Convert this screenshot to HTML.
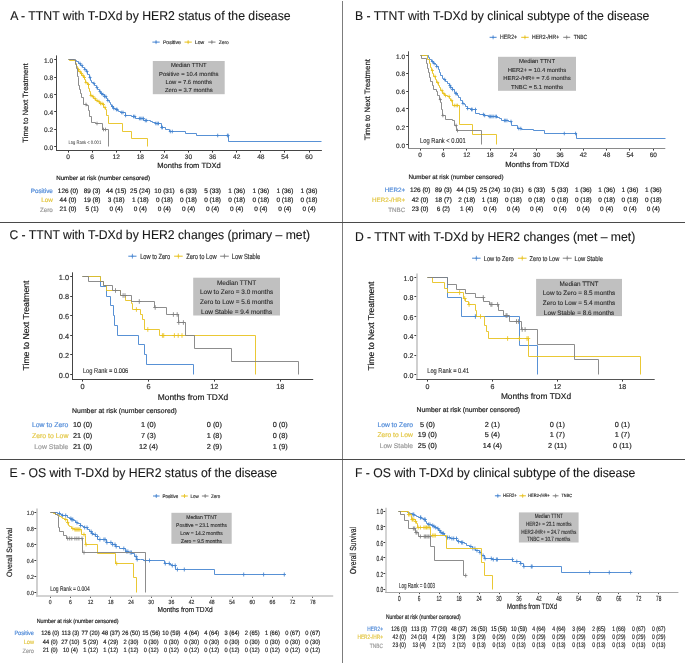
<!DOCTYPE html>
<html><head><meta charset="utf-8"><style>
html,body{margin:0;padding:0;background:#fff;}
svg{display:block;filter:blur(0.25px);}
text{font-family:"Liberation Sans",sans-serif;text-rendering:geometricPrecision;}
</style></head><body>
<svg width="685" height="664" viewBox="0 0 685 664">
<rect width="685" height="664" fill="#ffffff"/>
<text x="10.20" y="19.70" font-size="12.74" text-anchor="start" fill="#1a1a1a" textLength="280.40" lengthAdjust="spacingAndGlyphs" stroke="#1a1a1a" stroke-width="0.12">A - TTNT with T-DXd by HER2 status of the disease</text>
<line x1="152.40" y1="42.10" x2="159.70" y2="42.10" stroke="#4584d0" stroke-width="1.0"/>
<path d="M155.05 42.10H157.05M156.05 40.10V44.10" stroke="#4584d0" stroke-width="0.8" fill="none"/>
<text x="162.90" y="43.87" font-size="5.14" text-anchor="start" fill="#333333" textLength="18.00" lengthAdjust="spacingAndGlyphs" stroke="#333333" stroke-width="0.18">Positive</text>
<line x1="184.50" y1="42.10" x2="191.80" y2="42.10" stroke="#e8c21e" stroke-width="1.0"/>
<path d="M187.15 42.10H189.15M188.15 40.10V44.10" stroke="#e8c21e" stroke-width="0.8" fill="none"/>
<text x="195.00" y="43.83" font-size="5.02" text-anchor="start" fill="#333333" textLength="9.20" lengthAdjust="spacingAndGlyphs" stroke="#333333" stroke-width="0.18">Low</text>
<line x1="208.20" y1="42.10" x2="215.50" y2="42.10" stroke="#808080" stroke-width="1.0"/>
<path d="M210.85 42.10H212.85M211.85 40.10V44.10" stroke="#808080" stroke-width="0.8" fill="none"/>
<text x="218.80" y="43.77" font-size="4.86" text-anchor="start" fill="#333333" textLength="10.00" lengthAdjust="spacingAndGlyphs" stroke="#333333" stroke-width="0.18">Zero</text>
<line x1="56.50" y1="55.40" x2="56.50" y2="151.00" stroke="#454545" stroke-width="1.0"/>
<line x1="56.00" y1="150.50" x2="321.90" y2="150.50" stroke="#454545" stroke-width="1.0"/>
<line x1="54.20" y1="146.50" x2="56.00" y2="146.50" stroke="#3a3a3a" stroke-width="1.0"/>
<text x="53.30" y="149.58" font-size="6.62" text-anchor="end" fill="#333333" stroke="#333333" stroke-width="0.18">0.0</text>
<line x1="54.20" y1="129.50" x2="56.00" y2="129.50" stroke="#3a3a3a" stroke-width="1.0"/>
<text x="53.30" y="132.22" font-size="6.62" text-anchor="end" fill="#333333" stroke="#333333" stroke-width="0.18">0.2</text>
<line x1="54.20" y1="111.50" x2="56.00" y2="111.50" stroke="#3a3a3a" stroke-width="1.0"/>
<text x="53.30" y="114.86" font-size="6.62" text-anchor="end" fill="#333333" stroke="#333333" stroke-width="0.18">0.4</text>
<line x1="54.20" y1="94.50" x2="56.00" y2="94.50" stroke="#3a3a3a" stroke-width="1.0"/>
<text x="53.30" y="97.50" font-size="6.62" text-anchor="end" fill="#333333" stroke="#333333" stroke-width="0.18">0.6</text>
<line x1="54.20" y1="77.50" x2="56.00" y2="77.50" stroke="#3a3a3a" stroke-width="1.0"/>
<text x="53.30" y="80.14" font-size="6.62" text-anchor="end" fill="#333333" stroke="#333333" stroke-width="0.18">0.8</text>
<line x1="54.20" y1="59.50" x2="56.00" y2="59.50" stroke="#3a3a3a" stroke-width="1.0"/>
<text x="53.30" y="62.78" font-size="6.62" text-anchor="end" fill="#333333" stroke="#333333" stroke-width="0.18">1.0</text>
<line x1="68.50" y1="151.00" x2="68.50" y2="152.60" stroke="#3a3a3a" stroke-width="1.0"/>
<text x="68.00" y="158.68" font-size="6.62" text-anchor="middle" fill="#333333" stroke="#333333" stroke-width="0.18">0</text>
<line x1="92.50" y1="151.00" x2="92.50" y2="152.60" stroke="#3a3a3a" stroke-width="1.0"/>
<text x="92.10" y="158.68" font-size="6.62" text-anchor="middle" fill="#333333" stroke="#333333" stroke-width="0.18">6</text>
<line x1="116.50" y1="151.00" x2="116.50" y2="152.60" stroke="#3a3a3a" stroke-width="1.0"/>
<text x="116.20" y="158.68" font-size="6.62" text-anchor="middle" fill="#333333" stroke="#333333" stroke-width="0.18">12</text>
<line x1="140.50" y1="151.00" x2="140.50" y2="152.60" stroke="#3a3a3a" stroke-width="1.0"/>
<text x="140.31" y="158.68" font-size="6.62" text-anchor="middle" fill="#333333" stroke="#333333" stroke-width="0.18">18</text>
<line x1="164.50" y1="151.00" x2="164.50" y2="152.60" stroke="#3a3a3a" stroke-width="1.0"/>
<text x="164.41" y="158.68" font-size="6.62" text-anchor="middle" fill="#333333" stroke="#333333" stroke-width="0.18">24</text>
<line x1="188.50" y1="151.00" x2="188.50" y2="152.60" stroke="#3a3a3a" stroke-width="1.0"/>
<text x="188.51" y="158.68" font-size="6.62" text-anchor="middle" fill="#333333" stroke="#333333" stroke-width="0.18">30</text>
<line x1="212.50" y1="151.00" x2="212.50" y2="152.60" stroke="#3a3a3a" stroke-width="1.0"/>
<text x="212.61" y="158.68" font-size="6.62" text-anchor="middle" fill="#333333" stroke="#333333" stroke-width="0.18">36</text>
<line x1="236.50" y1="151.00" x2="236.50" y2="152.60" stroke="#3a3a3a" stroke-width="1.0"/>
<text x="236.71" y="158.68" font-size="6.62" text-anchor="middle" fill="#333333" stroke="#333333" stroke-width="0.18">42</text>
<line x1="260.50" y1="151.00" x2="260.50" y2="152.60" stroke="#3a3a3a" stroke-width="1.0"/>
<text x="260.82" y="158.68" font-size="6.62" text-anchor="middle" fill="#333333" stroke="#333333" stroke-width="0.18">48</text>
<line x1="284.50" y1="151.00" x2="284.50" y2="152.60" stroke="#3a3a3a" stroke-width="1.0"/>
<text x="284.92" y="158.68" font-size="6.62" text-anchor="middle" fill="#333333" stroke="#333333" stroke-width="0.18">54</text>
<line x1="309.50" y1="151.00" x2="309.50" y2="152.60" stroke="#3a3a3a" stroke-width="1.0"/>
<text x="309.02" y="158.68" font-size="6.62" text-anchor="middle" fill="#333333" stroke="#333333" stroke-width="0.18">60</text>
<text transform="translate(28.02,103.00) rotate(-90)" x="0" y="0" font-size="7.62" text-anchor="middle" fill="#1a1a1a" textLength="79.30" lengthAdjust="spacingAndGlyphs" stroke="#1a1a1a" stroke-width="0.18">Time to Next Treatment</text>
<text x="157.30" y="167.61" font-size="7.58" text-anchor="start" fill="#1a1a1a" textLength="63.50" lengthAdjust="spacingAndGlyphs" stroke="#1a1a1a" stroke-width="0.18">Months from TDXd</text>
<rect x="152.80" y="61.00" width="71.90" height="33.20" fill="#c0c0c0"/>
<text x="188.75" y="67.01" font-size="5.86" text-anchor="middle" fill="#262626" stroke="#262626" stroke-width="0.09">Median TTNT</text>
<text x="188.75" y="75.81" font-size="5.86" text-anchor="middle" fill="#262626" stroke="#262626" stroke-width="0.09">Positive = 10.4 months</text>
<text x="188.75" y="84.31" font-size="5.86" text-anchor="middle" fill="#262626" stroke="#262626" stroke-width="0.09">Low = 7.6 months</text>
<text x="188.75" y="92.31" font-size="5.86" text-anchor="middle" fill="#262626" stroke="#262626" stroke-width="0.09">Zero = 3.7 months</text>
<text x="68.40" y="144.31" font-size="4.97" text-anchor="start" fill="#2a2a2a" textLength="32.80" lengthAdjust="spacingAndGlyphs">Log Rank &lt; 0.001</text>
<text x="56.20" y="180.12" font-size="6.17" text-anchor="start" fill="#1a1a1a" textLength="93.90" lengthAdjust="spacingAndGlyphs" stroke="#1a1a1a" stroke-width="0.18">Number at risk (number censored)</text>
<path d="M68.50 59.50 L74.50 59.50 L74.50 60.50 L76.50 60.50 L76.50 61.50 L78.50 61.50 L78.50 63.50 L80.50 63.50 L80.50 65.50 L82.50 65.50 L82.50 67.50 L84.50 67.50 L84.50 69.50 L86.50 69.50 L86.50 71.50 L87.50 71.50 L87.50 74.50 L89.50 74.50 L89.50 77.50 L90.50 77.50 L90.50 80.50 L91.50 80.50 L91.50 82.50 L93.50 82.50 L93.50 83.50 L94.50 83.50 L94.50 85.50 L96.50 85.50 L96.50 87.50 L97.50 87.50 L97.50 89.50 L99.50 89.50 L99.50 91.50 L100.50 91.50 L100.50 93.50 L102.50 93.50 L102.50 94.50 L104.50 94.50 L104.50 96.50 L106.50 96.50 L106.50 98.50 L107.50 98.50 L107.50 100.50 L109.50 100.50 L109.50 102.50 L110.50 102.50 L110.50 104.50 L111.50 104.50 L111.50 106.50 L113.50 106.50 L113.50 108.50 L115.50 108.50 L115.50 109.50 L117.50 109.50 L117.50 110.50 L118.50 110.50 L118.50 111.50 L120.50 111.50 L120.50 112.50 L122.50 112.50 L125.50 112.50 L125.50 115.50 L131.50 115.50 L131.50 116.50 L135.50 116.50 L135.50 118.50 L139.50 118.50 L143.50 118.50 L143.50 120.50 L148.50 120.50 L150.50 120.50 L150.50 121.50 L152.50 121.50 L152.50 122.50 L155.50 122.50 L155.50 123.50 L157.50 123.50 L161.50 123.50 L161.50 127.50 L165.50 127.50 L165.50 129.50 L169.50 129.50 L169.50 131.50 L185.50 131.50 L185.50 133.50 L196.50 133.50 L196.50 135.50 L228.50 135.50 L228.50 141.50 L321.50 141.50" stroke="#4584d0" stroke-width="0.9" fill="none" stroke-linejoin="miter"/>
<path d="M78.47 63.50H81.53M80.00 61.70V65.30" stroke="#4584d0" stroke-width="0.85" fill="none"/>
<path d="M80.47 65.50H83.53M82.00 63.70V67.30" stroke="#4584d0" stroke-width="0.85" fill="none"/>
<path d="M83.47 69.50H86.53M85.00 67.70V71.30" stroke="#4584d0" stroke-width="0.85" fill="none"/>
<path d="M85.47 71.50H88.53M87.00 69.70V73.30" stroke="#4584d0" stroke-width="0.85" fill="none"/>
<path d="M88.47 77.50H91.53M90.00 75.70V79.30" stroke="#4584d0" stroke-width="0.85" fill="none"/>
<path d="M92.47 83.50H95.53M94.00 81.70V85.30" stroke="#4584d0" stroke-width="0.85" fill="none"/>
<path d="M95.47 87.50H98.53M97.00 85.70V89.30" stroke="#4584d0" stroke-width="0.85" fill="none"/>
<path d="M98.47 91.50H101.53M100.00 89.70V93.30" stroke="#4584d0" stroke-width="0.85" fill="none"/>
<path d="M99.97 93.50H103.03M101.50 91.70V95.30" stroke="#4584d0" stroke-width="0.85" fill="none"/>
<path d="M101.47 94.50H104.53M103.00 92.70V96.30" stroke="#4584d0" stroke-width="0.85" fill="none"/>
<path d="M103.07 96.50H106.13M104.60 94.70V98.30" stroke="#4584d0" stroke-width="0.85" fill="none"/>
<path d="M104.37 96.50H107.43M105.90 94.70V98.30" stroke="#4584d0" stroke-width="0.85" fill="none"/>
<path d="M106.37 100.50H109.43M107.90 98.70V102.30" stroke="#4584d0" stroke-width="0.85" fill="none"/>
<path d="M110.97 106.50H114.03M112.50 104.70V108.30" stroke="#4584d0" stroke-width="0.85" fill="none"/>
<path d="M112.27 108.50H115.33M113.80 106.70V110.30" stroke="#4584d0" stroke-width="0.85" fill="none"/>
<path d="M114.87 109.50H117.93M116.40 107.70V111.30" stroke="#4584d0" stroke-width="0.85" fill="none"/>
<path d="M115.57 109.50H118.63M117.10 107.70V111.30" stroke="#4584d0" stroke-width="0.85" fill="none"/>
<path d="M120.17 112.50H123.23M121.70 110.70V114.30" stroke="#4584d0" stroke-width="0.85" fill="none"/>
<path d="M121.47 112.50H124.53M123.00 110.70V114.30" stroke="#4584d0" stroke-width="0.85" fill="none"/>
<path d="M124.07 115.50H127.13M125.60 113.70V117.30" stroke="#4584d0" stroke-width="0.85" fill="none"/>
<path d="M131.97 116.50H135.03M133.50 114.70V118.30" stroke="#4584d0" stroke-width="0.85" fill="none"/>
<path d="M133.27 116.50H136.33M134.80 114.70V118.30" stroke="#4584d0" stroke-width="0.85" fill="none"/>
<path d="M137.87 118.50H140.93M139.40 116.70V120.30" stroke="#4584d0" stroke-width="0.85" fill="none"/>
<path d="M139.17 118.50H142.23M140.70 116.70V120.30" stroke="#4584d0" stroke-width="0.85" fill="none"/>
<path d="M140.47 118.50H143.53M142.00 116.70V120.30" stroke="#4584d0" stroke-width="0.85" fill="none"/>
<path d="M141.87 118.50H144.93M143.40 116.70V120.30" stroke="#4584d0" stroke-width="0.85" fill="none"/>
<path d="M143.77 120.50H146.83M145.30 118.70V122.30" stroke="#4584d0" stroke-width="0.85" fill="none"/>
<path d="M145.07 120.50H148.13M146.60 118.70V122.30" stroke="#4584d0" stroke-width="0.85" fill="none"/>
<path d="M154.27 123.50H157.33M155.80 121.70V125.30" stroke="#4584d0" stroke-width="0.85" fill="none"/>
<path d="M155.67 123.50H158.73M157.20 121.70V125.30" stroke="#4584d0" stroke-width="0.85" fill="none"/>
<path d="M156.97 123.50H160.03M158.50 121.70V125.30" stroke="#4584d0" stroke-width="0.85" fill="none"/>
<path d="M160.27 127.50H163.33M161.80 125.70V129.30" stroke="#4584d0" stroke-width="0.85" fill="none"/>
<path d="M160.87 127.50H163.93M162.40 125.70V129.30" stroke="#4584d0" stroke-width="0.85" fill="none"/>
<path d="M168.77 131.50H171.83M170.30 129.70V133.30" stroke="#4584d0" stroke-width="0.85" fill="none"/>
<path d="M170.77 131.50H173.83M172.30 129.70V133.30" stroke="#4584d0" stroke-width="0.85" fill="none"/>
<path d="M216.17 135.50H219.23M217.70 133.70V137.30" stroke="#4584d0" stroke-width="0.85" fill="none"/>
<path d="M225.87 135.50H228.93M227.40 133.70V137.30" stroke="#4584d0" stroke-width="0.85" fill="none"/>
<path d="M226.67 135.50H229.73M228.20 133.70V137.30" stroke="#4584d0" stroke-width="0.85" fill="none"/>
<path d="M68.50 59.50 L69.50 59.50 L69.50 60.50 L74.50 60.50 L75.50 60.50 L75.50 63.50 L76.50 63.50 L76.50 66.50 L77.50 66.50 L77.50 69.50 L78.50 69.50 L78.50 71.50 L80.50 71.50 L80.50 73.50 L81.50 73.50 L81.50 75.50 L83.50 75.50 L83.50 77.50 L84.50 77.50 L84.50 79.50 L85.50 79.50 L85.50 82.50 L87.50 82.50 L87.50 84.50 L88.50 84.50 L88.50 88.50 L89.50 88.50 L89.50 91.50 L90.50 91.50 L90.50 95.50 L92.50 95.50 L92.50 96.50 L93.50 96.50 L93.50 98.50 L95.50 98.50 L95.50 100.50 L97.50 100.50 L97.50 101.50 L99.50 101.50 L99.50 103.50 L102.50 103.50 L102.50 104.50 L103.50 104.50 L103.50 107.50 L105.50 107.50 L105.50 109.50 L106.50 109.50 L106.50 115.50 L108.50 115.50 L108.50 116.50 L108.50 123.50 L122.50 123.50 L122.50 131.50 L131.50 131.50 L131.50 138.50 L147.50 138.50 L147.50 146.50" stroke="#e8c21e" stroke-width="0.9" fill="none" stroke-linejoin="miter"/>
<path d="M76.97 69.50H80.03M78.50 67.70V71.30" stroke="#e8c21e" stroke-width="0.85" fill="none"/>
<path d="M78.47 71.50H81.53M80.00 69.70V73.30" stroke="#e8c21e" stroke-width="0.85" fill="none"/>
<path d="M79.97 73.50H83.03M81.50 71.70V75.30" stroke="#e8c21e" stroke-width="0.85" fill="none"/>
<path d="M81.47 75.50H84.53M83.00 73.70V77.30" stroke="#e8c21e" stroke-width="0.85" fill="none"/>
<path d="M82.97 77.50H86.03M84.50 75.70V79.30" stroke="#e8c21e" stroke-width="0.85" fill="none"/>
<path d="M84.47 82.50H87.53M86.00 80.70V84.30" stroke="#e8c21e" stroke-width="0.85" fill="none"/>
<path d="M86.97 84.50H90.03M88.50 82.70V86.30" stroke="#e8c21e" stroke-width="0.85" fill="none"/>
<path d="M89.47 95.50H92.53M91.00 93.70V97.30" stroke="#e8c21e" stroke-width="0.85" fill="none"/>
<path d="M91.47 96.50H94.53M93.00 94.70V98.30" stroke="#e8c21e" stroke-width="0.85" fill="none"/>
<path d="M93.47 98.50H96.53M95.00 96.70V100.30" stroke="#e8c21e" stroke-width="0.85" fill="none"/>
<path d="M95.47 100.50H98.53M97.00 98.70V102.30" stroke="#e8c21e" stroke-width="0.85" fill="none"/>
<path d="M97.47 101.50H100.53M99.00 99.70V103.30" stroke="#e8c21e" stroke-width="0.85" fill="none"/>
<path d="M98.97 103.50H102.03M100.50 101.70V105.30" stroke="#e8c21e" stroke-width="0.85" fill="none"/>
<path d="M100.47 103.50H103.53M102.00 101.70V105.30" stroke="#e8c21e" stroke-width="0.85" fill="none"/>
<path d="M101.97 104.50H105.03M103.50 102.70V106.30" stroke="#e8c21e" stroke-width="0.85" fill="none"/>
<path d="M103.47 107.50H106.53M105.00 105.70V109.30" stroke="#e8c21e" stroke-width="0.85" fill="none"/>
<path d="M68.50 59.50 L74.50 59.50 L75.50 59.50 L75.50 64.50 L76.50 64.50 L76.50 68.50 L77.50 68.50 L77.50 76.50 L78.50 76.50 L78.50 77.50 L78.50 85.50 L79.50 85.50 L79.50 89.50 L80.50 89.50 L80.50 93.50 L81.50 93.50 L81.50 97.50 L83.50 97.50 L83.50 104.50 L86.50 104.50 L86.50 105.50 L88.50 105.50 L88.50 110.50 L89.50 110.50 L89.50 116.50 L91.50 116.50 L91.50 122.50 L95.50 122.50 L95.50 123.50 L102.50 123.50 L102.50 129.50 L108.50 129.50 L108.50 146.50" stroke="#808080" stroke-width="0.9" fill="none" stroke-linejoin="miter"/>
<path d="M84.47 104.50H87.53M86.00 102.70V106.30" stroke="#808080" stroke-width="0.85" fill="none"/>
<path d="M95.47 123.50H98.53M97.00 121.70V125.30" stroke="#808080" stroke-width="0.85" fill="none"/>
<path d="M101.97 129.50H105.03M103.50 127.70V131.30" stroke="#808080" stroke-width="0.85" fill="none"/>
<path d="M103.97 129.50H107.03M105.50 127.70V131.30" stroke="#808080" stroke-width="0.85" fill="none"/>
<text x="52.90" y="192.88" font-size="6.34" text-anchor="end" fill="#4f8ad8" stroke="#4f8ad8" stroke-width="0.18">Positive</text>
<text x="68.00" y="192.52" font-size="6.44" text-anchor="middle" fill="#222222" stroke="#222222" stroke-width="0.18">126 (0)</text>
<text x="92.10" y="192.52" font-size="6.44" text-anchor="middle" fill="#222222" stroke="#222222" stroke-width="0.18">89 (3)</text>
<text x="116.20" y="192.52" font-size="6.44" text-anchor="middle" fill="#222222" stroke="#222222" stroke-width="0.18">44 (15)</text>
<text x="140.31" y="192.52" font-size="6.44" text-anchor="middle" fill="#222222" stroke="#222222" stroke-width="0.18">25 (24)</text>
<text x="164.41" y="192.52" font-size="6.44" text-anchor="middle" fill="#222222" stroke="#222222" stroke-width="0.18">10 (31)</text>
<text x="188.51" y="192.52" font-size="6.44" text-anchor="middle" fill="#222222" stroke="#222222" stroke-width="0.18">6 (33)</text>
<text x="212.61" y="192.52" font-size="6.44" text-anchor="middle" fill="#222222" stroke="#222222" stroke-width="0.18">5 (33)</text>
<text x="236.71" y="192.52" font-size="6.44" text-anchor="middle" fill="#222222" stroke="#222222" stroke-width="0.18">1 (36)</text>
<text x="260.82" y="192.52" font-size="6.44" text-anchor="middle" fill="#222222" stroke="#222222" stroke-width="0.18">1 (36)</text>
<text x="284.92" y="192.52" font-size="6.44" text-anchor="middle" fill="#222222" stroke="#222222" stroke-width="0.18">1 (36)</text>
<text x="309.02" y="192.52" font-size="6.44" text-anchor="middle" fill="#222222" stroke="#222222" stroke-width="0.18">1 (36)</text>
<text x="52.90" y="202.28" font-size="6.34" text-anchor="end" fill="#e3c745" stroke="#e3c745" stroke-width="0.18">Low</text>
<text x="68.00" y="201.92" font-size="6.44" text-anchor="middle" fill="#222222" stroke="#222222" stroke-width="0.18">44 (0)</text>
<text x="92.10" y="201.92" font-size="6.44" text-anchor="middle" fill="#222222" stroke="#222222" stroke-width="0.18">19 (8)</text>
<text x="116.20" y="201.92" font-size="6.44" text-anchor="middle" fill="#222222" stroke="#222222" stroke-width="0.18">3 (18)</text>
<text x="140.31" y="201.92" font-size="6.44" text-anchor="middle" fill="#222222" stroke="#222222" stroke-width="0.18">1 (18)</text>
<text x="164.41" y="201.92" font-size="6.44" text-anchor="middle" fill="#222222" stroke="#222222" stroke-width="0.18">0 (18)</text>
<text x="188.51" y="201.92" font-size="6.44" text-anchor="middle" fill="#222222" stroke="#222222" stroke-width="0.18">0 (18)</text>
<text x="212.61" y="201.92" font-size="6.44" text-anchor="middle" fill="#222222" stroke="#222222" stroke-width="0.18">0 (18)</text>
<text x="236.71" y="201.92" font-size="6.44" text-anchor="middle" fill="#222222" stroke="#222222" stroke-width="0.18">0 (18)</text>
<text x="260.82" y="201.92" font-size="6.44" text-anchor="middle" fill="#222222" stroke="#222222" stroke-width="0.18">0 (18)</text>
<text x="284.92" y="201.92" font-size="6.44" text-anchor="middle" fill="#222222" stroke="#222222" stroke-width="0.18">0 (18)</text>
<text x="309.02" y="201.92" font-size="6.44" text-anchor="middle" fill="#222222" stroke="#222222" stroke-width="0.18">0 (18)</text>
<text x="52.90" y="211.68" font-size="6.34" text-anchor="end" fill="#9a9a9a" stroke="#9a9a9a" stroke-width="0.18">Zero</text>
<text x="68.00" y="211.32" font-size="6.44" text-anchor="middle" fill="#222222" stroke="#222222" stroke-width="0.18">21 (0)</text>
<text x="92.10" y="211.32" font-size="6.44" text-anchor="middle" fill="#222222" stroke="#222222" stroke-width="0.18">5 (1)</text>
<text x="116.20" y="211.32" font-size="6.44" text-anchor="middle" fill="#222222" stroke="#222222" stroke-width="0.18">0 (4)</text>
<text x="140.31" y="211.32" font-size="6.44" text-anchor="middle" fill="#222222" stroke="#222222" stroke-width="0.18">0 (4)</text>
<text x="164.41" y="211.32" font-size="6.44" text-anchor="middle" fill="#222222" stroke="#222222" stroke-width="0.18">0 (4)</text>
<text x="188.51" y="211.32" font-size="6.44" text-anchor="middle" fill="#222222" stroke="#222222" stroke-width="0.18">0 (4)</text>
<text x="212.61" y="211.32" font-size="6.44" text-anchor="middle" fill="#222222" stroke="#222222" stroke-width="0.18">0 (4)</text>
<text x="236.71" y="211.32" font-size="6.44" text-anchor="middle" fill="#222222" stroke="#222222" stroke-width="0.18">0 (4)</text>
<text x="260.82" y="211.32" font-size="6.44" text-anchor="middle" fill="#222222" stroke="#222222" stroke-width="0.18">0 (4)</text>
<text x="284.92" y="211.32" font-size="6.44" text-anchor="middle" fill="#222222" stroke="#222222" stroke-width="0.18">0 (4)</text>
<text x="309.02" y="211.32" font-size="6.44" text-anchor="middle" fill="#222222" stroke="#222222" stroke-width="0.18">0 (4)</text>
<text x="354.90" y="20.30" font-size="12.70" text-anchor="start" fill="#1a1a1a" textLength="294.50" lengthAdjust="spacingAndGlyphs" stroke="#1a1a1a" stroke-width="0.12">B - TTNT with T-DXd by clinical subtype of the disease</text>
<line x1="489.60" y1="37.30" x2="496.60" y2="37.30" stroke="#4584d0" stroke-width="1.0"/>
<path d="M492.10 37.30H494.10M493.10 35.30V39.30" stroke="#4584d0" stroke-width="0.8" fill="none"/>
<text x="500.10" y="39.46" font-size="6.27" text-anchor="start" fill="#333333" textLength="17.00" lengthAdjust="spacingAndGlyphs" stroke="#333333" stroke-width="0.18">HER2+</text>
<line x1="521.20" y1="37.30" x2="528.70" y2="37.30" stroke="#e8c21e" stroke-width="1.0"/>
<path d="M523.95 37.30H525.95M524.95 35.30V39.30" stroke="#e8c21e" stroke-width="0.8" fill="none"/>
<text x="532.00" y="39.42" font-size="6.15" text-anchor="start" fill="#333333" textLength="27.20" lengthAdjust="spacingAndGlyphs" stroke="#333333" stroke-width="0.18">HER2-/HR+</text>
<line x1="563.20" y1="37.30" x2="570.20" y2="37.30" stroke="#808080" stroke-width="1.0"/>
<path d="M565.70 37.30H567.70M566.70 35.30V39.30" stroke="#808080" stroke-width="0.8" fill="none"/>
<text x="573.70" y="39.35" font-size="5.95" text-anchor="start" fill="#333333" textLength="13.50" lengthAdjust="spacingAndGlyphs" stroke="#333333" stroke-width="0.18">TNBC</text>
<line x1="408.50" y1="51.30" x2="408.50" y2="149.00" stroke="#555555" stroke-width="1.0"/>
<line x1="408.00" y1="148.50" x2="665.30" y2="148.50" stroke="#8a8a8a" stroke-width="1.0"/>
<line x1="406.20" y1="144.50" x2="408.00" y2="144.50" stroke="#3a3a3a" stroke-width="1.0"/>
<text x="405.00" y="147.53" font-size="6.47" text-anchor="end" fill="#333333" stroke="#333333" stroke-width="0.18">0.0</text>
<line x1="406.20" y1="126.50" x2="408.00" y2="126.50" stroke="#3a3a3a" stroke-width="1.0"/>
<text x="405.00" y="129.73" font-size="6.47" text-anchor="end" fill="#333333" stroke="#333333" stroke-width="0.18">0.2</text>
<line x1="406.20" y1="108.50" x2="408.00" y2="108.50" stroke="#3a3a3a" stroke-width="1.0"/>
<text x="405.00" y="111.93" font-size="6.47" text-anchor="end" fill="#333333" stroke="#333333" stroke-width="0.18">0.4</text>
<line x1="406.20" y1="91.50" x2="408.00" y2="91.50" stroke="#3a3a3a" stroke-width="1.0"/>
<text x="405.00" y="94.13" font-size="6.47" text-anchor="end" fill="#333333" stroke="#333333" stroke-width="0.18">0.6</text>
<line x1="406.20" y1="73.50" x2="408.00" y2="73.50" stroke="#3a3a3a" stroke-width="1.0"/>
<text x="405.00" y="76.33" font-size="6.47" text-anchor="end" fill="#333333" stroke="#333333" stroke-width="0.18">0.8</text>
<line x1="406.20" y1="55.50" x2="408.00" y2="55.50" stroke="#3a3a3a" stroke-width="1.0"/>
<text x="405.00" y="58.53" font-size="6.47" text-anchor="end" fill="#333333" stroke="#333333" stroke-width="0.18">1.0</text>
<line x1="420.50" y1="149.00" x2="420.50" y2="150.60" stroke="#3a3a3a" stroke-width="1.0"/>
<text x="420.10" y="157.33" font-size="6.47" text-anchor="middle" fill="#333333" stroke="#333333" stroke-width="0.18">0</text>
<line x1="443.50" y1="149.00" x2="443.50" y2="150.60" stroke="#3a3a3a" stroke-width="1.0"/>
<text x="443.42" y="157.33" font-size="6.47" text-anchor="middle" fill="#333333" stroke="#333333" stroke-width="0.18">6</text>
<line x1="466.50" y1="149.00" x2="466.50" y2="150.60" stroke="#3a3a3a" stroke-width="1.0"/>
<text x="466.74" y="157.33" font-size="6.47" text-anchor="middle" fill="#333333" stroke="#333333" stroke-width="0.18">12</text>
<line x1="490.50" y1="149.00" x2="490.50" y2="150.60" stroke="#3a3a3a" stroke-width="1.0"/>
<text x="490.07" y="157.33" font-size="6.47" text-anchor="middle" fill="#333333" stroke="#333333" stroke-width="0.18">18</text>
<line x1="513.50" y1="149.00" x2="513.50" y2="150.60" stroke="#3a3a3a" stroke-width="1.0"/>
<text x="513.39" y="157.33" font-size="6.47" text-anchor="middle" fill="#333333" stroke="#333333" stroke-width="0.18">24</text>
<line x1="536.50" y1="149.00" x2="536.50" y2="150.60" stroke="#3a3a3a" stroke-width="1.0"/>
<text x="536.71" y="157.33" font-size="6.47" text-anchor="middle" fill="#333333" stroke="#333333" stroke-width="0.18">30</text>
<line x1="560.50" y1="149.00" x2="560.50" y2="150.60" stroke="#3a3a3a" stroke-width="1.0"/>
<text x="560.03" y="157.33" font-size="6.47" text-anchor="middle" fill="#333333" stroke="#333333" stroke-width="0.18">36</text>
<line x1="583.50" y1="149.00" x2="583.50" y2="150.60" stroke="#3a3a3a" stroke-width="1.0"/>
<text x="583.35" y="157.33" font-size="6.47" text-anchor="middle" fill="#333333" stroke="#333333" stroke-width="0.18">42</text>
<line x1="606.50" y1="149.00" x2="606.50" y2="150.60" stroke="#3a3a3a" stroke-width="1.0"/>
<text x="606.68" y="157.33" font-size="6.47" text-anchor="middle" fill="#333333" stroke="#333333" stroke-width="0.18">48</text>
<line x1="629.50" y1="149.00" x2="629.50" y2="150.60" stroke="#3a3a3a" stroke-width="1.0"/>
<text x="630.00" y="157.33" font-size="6.47" text-anchor="middle" fill="#333333" stroke="#333333" stroke-width="0.18">54</text>
<line x1="653.50" y1="149.00" x2="653.50" y2="150.60" stroke="#3a3a3a" stroke-width="1.0"/>
<text x="653.32" y="157.33" font-size="6.47" text-anchor="middle" fill="#333333" stroke="#333333" stroke-width="0.18">60</text>
<text transform="translate(369.99,99.70) rotate(-90)" x="0" y="0" font-size="7.81" text-anchor="middle" fill="#1a1a1a" textLength="81.30" lengthAdjust="spacingAndGlyphs" stroke="#1a1a1a" stroke-width="0.18">Time to Next Treatment</text>
<text x="505.20" y="166.83" font-size="7.63" text-anchor="start" fill="#1a1a1a" textLength="63.90" lengthAdjust="spacingAndGlyphs" stroke="#1a1a1a" stroke-width="0.18">Months from TDXd</text>
<rect x="498.00" y="56.80" width="78.00" height="34.00" fill="#c0c0c0"/>
<text x="537.00" y="62.93" font-size="5.91" text-anchor="middle" fill="#262626" stroke="#262626" stroke-width="0.09">Median TTNT</text>
<text x="537.00" y="72.03" font-size="5.91" text-anchor="middle" fill="#262626" stroke="#262626" stroke-width="0.09">HER2+ = 10.4 months</text>
<text x="537.00" y="80.43" font-size="5.91" text-anchor="middle" fill="#262626" stroke="#262626" stroke-width="0.09">HER2-/HR+ = 7.6 months</text>
<text x="537.00" y="88.83" font-size="5.91" text-anchor="middle" fill="#262626" stroke="#262626" stroke-width="0.09">TNBC = 5.1 months</text>
<text x="420.10" y="142.88" font-size="7.19" text-anchor="start" fill="#2a2a2a" textLength="45.60" lengthAdjust="spacingAndGlyphs" stroke="#2a2a2a" stroke-width="0.11">Log Rank &lt; 0.001</text>
<text x="408.40" y="178.75" font-size="6.25" text-anchor="start" fill="#1a1a1a" textLength="95.10" lengthAdjust="spacingAndGlyphs" stroke="#1a1a1a" stroke-width="0.18">Number at risk (number censored)</text>
<path d="M420.50 55.50 L426.50 55.50 L428.50 55.50 L428.50 57.50 L429.50 57.50 L429.50 59.50 L431.50 59.50 L431.50 61.50 L433.50 61.50 L433.50 63.50 L435.50 63.50 L435.50 64.50 L436.50 64.50 L436.50 66.50 L438.50 66.50 L438.50 69.50 L439.50 69.50 L439.50 72.50 L440.50 72.50 L440.50 75.50 L442.50 75.50 L442.50 78.50 L443.50 78.50 L443.50 79.50 L445.50 79.50 L445.50 81.50 L447.50 81.50 L447.50 83.50 L449.50 83.50 L449.50 85.50 L450.50 85.50 L450.50 87.50 L452.50 87.50 L452.50 89.50 L454.50 89.50 L454.50 92.50 L455.50 92.50 L455.50 93.50 L457.50 93.50 L457.50 95.50 L458.50 95.50 L458.50 97.50 L460.50 97.50 L460.50 100.50 L462.50 100.50 L462.50 103.50 L464.50 103.50 L464.50 104.50 L465.50 104.50 L465.50 106.50 L467.50 106.50 L467.50 108.50 L470.50 108.50 L470.50 109.50 L472.50 109.50 L475.50 109.50 L475.50 113.50 L479.50 113.50 L479.50 114.50 L484.50 114.50 L484.50 115.50 L488.50 115.50 L488.50 116.50 L492.50 116.50 L496.50 116.50 L496.50 117.50 L499.50 117.50 L499.50 118.50 L501.50 118.50 L501.50 120.50 L508.50 120.50 L508.50 121.50 L511.50 121.50 L511.50 125.50 L517.50 125.50 L517.50 128.50 L521.50 128.50 L521.50 129.50 L533.50 129.50 L533.50 130.50 L544.50 130.50 L544.50 133.50 L576.50 133.50 L576.50 138.50 L665.50 138.50" stroke="#4584d0" stroke-width="0.9" fill="none" stroke-linejoin="miter"/>
<path d="M430.87 61.50H433.93M432.40 59.70V63.30" stroke="#4584d0" stroke-width="0.85" fill="none"/>
<path d="M432.67 63.50H435.73M434.20 61.70V65.30" stroke="#4584d0" stroke-width="0.85" fill="none"/>
<path d="M435.27 66.50H438.33M436.80 64.70V68.30" stroke="#4584d0" stroke-width="0.85" fill="none"/>
<path d="M443.17 79.50H446.23M444.70 77.70V81.30" stroke="#4584d0" stroke-width="0.85" fill="none"/>
<path d="M448.37 85.50H451.43M449.90 83.70V87.30" stroke="#4584d0" stroke-width="0.85" fill="none"/>
<path d="M449.27 87.50H452.33M450.80 85.70V89.30" stroke="#4584d0" stroke-width="0.85" fill="none"/>
<path d="M451.07 89.50H454.13M452.60 87.70V91.30" stroke="#4584d0" stroke-width="0.85" fill="none"/>
<path d="M454.27 93.50H457.33M455.80 91.70V95.30" stroke="#4584d0" stroke-width="0.85" fill="none"/>
<path d="M454.87 93.50H457.93M456.40 91.70V95.30" stroke="#4584d0" stroke-width="0.85" fill="none"/>
<path d="M461.47 103.50H464.53M463.00 101.70V105.30" stroke="#4584d0" stroke-width="0.85" fill="none"/>
<path d="M466.07 108.50H469.13M467.60 106.70V110.30" stroke="#4584d0" stroke-width="0.85" fill="none"/>
<path d="M469.97 109.50H473.03M471.50 107.70V111.30" stroke="#4584d0" stroke-width="0.85" fill="none"/>
<path d="M470.67 109.50H473.73M472.20 107.70V111.30" stroke="#4584d0" stroke-width="0.85" fill="none"/>
<path d="M473.97 109.50H477.03M475.50 107.70V111.30" stroke="#4584d0" stroke-width="0.85" fill="none"/>
<path d="M481.87 114.50H484.93M483.40 112.70V116.30" stroke="#4584d0" stroke-width="0.85" fill="none"/>
<path d="M483.17 115.50H486.23M484.70 113.70V117.30" stroke="#4584d0" stroke-width="0.85" fill="none"/>
<path d="M487.77 116.50H490.83M489.30 114.70V118.30" stroke="#4584d0" stroke-width="0.85" fill="none"/>
<path d="M489.07 116.50H492.13M490.60 114.70V118.30" stroke="#4584d0" stroke-width="0.85" fill="none"/>
<path d="M490.37 116.50H493.43M491.90 114.70V118.30" stroke="#4584d0" stroke-width="0.85" fill="none"/>
<path d="M491.67 116.50H494.73M493.20 114.70V118.30" stroke="#4584d0" stroke-width="0.85" fill="none"/>
<path d="M493.67 116.50H496.73M495.20 114.70V118.30" stroke="#4584d0" stroke-width="0.85" fill="none"/>
<path d="M494.97 116.50H498.03M496.50 114.70V118.30" stroke="#4584d0" stroke-width="0.85" fill="none"/>
<path d="M502.87 120.50H505.93M504.40 118.70V122.30" stroke="#4584d0" stroke-width="0.85" fill="none"/>
<path d="M504.17 120.50H507.23M505.70 118.70V122.30" stroke="#4584d0" stroke-width="0.85" fill="none"/>
<path d="M505.47 120.50H508.53M507.00 118.70V122.30" stroke="#4584d0" stroke-width="0.85" fill="none"/>
<path d="M509.47 121.50H512.53M511.00 119.70V123.30" stroke="#4584d0" stroke-width="0.85" fill="none"/>
<path d="M517.27 128.50H520.33M518.80 126.70V130.30" stroke="#4584d0" stroke-width="0.85" fill="none"/>
<path d="M519.27 128.50H522.33M520.80 126.70V130.30" stroke="#4584d0" stroke-width="0.85" fill="none"/>
<path d="M562.77 133.50H565.83M564.30 131.70V135.30" stroke="#4584d0" stroke-width="0.85" fill="none"/>
<path d="M574.07 133.50H577.13M575.60 131.70V135.30" stroke="#4584d0" stroke-width="0.85" fill="none"/>
<path d="M420.50 55.50 L426.50 55.50 L427.50 55.50 L427.50 59.50 L429.50 59.50 L429.50 63.50 L430.50 63.50 L430.50 67.50 L431.50 67.50 L431.50 70.50 L432.50 70.50 L432.50 73.50 L433.50 73.50 L433.50 76.50 L435.50 76.50 L435.50 79.50 L436.50 79.50 L436.50 82.50 L438.50 82.50 L438.50 85.50 L439.50 85.50 L439.50 87.50 L440.50 87.50 L440.50 90.50 L442.50 90.50 L442.50 93.50 L444.50 93.50 L444.50 95.50 L447.50 95.50 L447.50 96.50 L449.50 96.50 L449.50 98.50 L450.50 98.50 L450.50 100.50 L452.50 100.50 L452.50 105.50 L459.50 105.50 L459.50 124.50 L472.50 124.50 L472.50 134.50 L496.50 134.50 L496.50 144.50" stroke="#e8c21e" stroke-width="0.9" fill="none" stroke-linejoin="miter"/>
<path d="M430.87 70.50H433.93M432.40 68.70V72.30" stroke="#e8c21e" stroke-width="0.85" fill="none"/>
<path d="M433.47 76.50H436.53M435.00 74.70V78.30" stroke="#e8c21e" stroke-width="0.85" fill="none"/>
<path d="M436.17 82.50H439.23M437.70 80.70V84.30" stroke="#e8c21e" stroke-width="0.85" fill="none"/>
<path d="M440.47 90.50H443.53M442.00 88.70V92.30" stroke="#e8c21e" stroke-width="0.85" fill="none"/>
<path d="M442.27 93.50H445.33M443.80 91.70V95.30" stroke="#e8c21e" stroke-width="0.85" fill="none"/>
<path d="M444.07 95.50H447.13M445.60 93.70V97.30" stroke="#e8c21e" stroke-width="0.85" fill="none"/>
<path d="M447.57 96.50H450.63M449.10 94.70V98.30" stroke="#e8c21e" stroke-width="0.85" fill="none"/>
<path d="M450.17 100.50H453.23M451.70 98.70V102.30" stroke="#e8c21e" stroke-width="0.85" fill="none"/>
<path d="M452.77 105.50H455.83M454.30 103.70V107.30" stroke="#e8c21e" stroke-width="0.85" fill="none"/>
<path d="M454.57 105.50H457.63M456.10 103.70V107.30" stroke="#e8c21e" stroke-width="0.85" fill="none"/>
<path d="M456.07 105.50H459.13M457.60 103.70V107.30" stroke="#e8c21e" stroke-width="0.85" fill="none"/>
<path d="M420.50 55.50 L421.50 55.50 L421.50 58.50 L426.50 58.50 L426.50 63.50 L427.50 63.50 L427.50 68.50 L428.50 68.50 L428.50 72.50 L429.50 72.50 L429.50 77.50 L430.50 77.50 L430.50 81.50 L432.50 81.50 L432.50 85.50 L433.50 85.50 L433.50 89.50 L436.50 89.50 L436.50 91.50 L437.50 91.50 L437.50 95.50 L439.50 95.50 L439.50 99.50 L440.50 99.50 L440.50 102.50 L441.50 102.50 L441.50 109.50 L442.50 109.50 L442.50 115.50 L445.50 115.50 L445.50 119.50 L452.50 119.50 L452.50 120.50 L454.50 120.50 L454.50 125.50 L456.50 125.50 L456.50 130.50 L481.50 130.50 L481.50 144.50" stroke="#808080" stroke-width="0.9" fill="none" stroke-linejoin="miter"/>
<path d="M438.77 99.50H441.83M440.30 97.70V101.30" stroke="#808080" stroke-width="0.85" fill="none"/>
<path d="M441.37 115.50H444.43M442.90 113.70V117.30" stroke="#808080" stroke-width="0.85" fill="none"/>
<path d="M454.57 125.50H457.63M456.10 123.70V127.30" stroke="#808080" stroke-width="0.85" fill="none"/>
<path d="M455.97 130.50H459.03M457.50 128.70V132.30" stroke="#808080" stroke-width="0.85" fill="none"/>
<text x="405.20" y="192.26" font-size="6.28" text-anchor="end" fill="#4f8ad8" stroke="#4f8ad8" stroke-width="0.18">HER2+</text>
<text x="420.10" y="191.92" font-size="6.44" text-anchor="middle" fill="#222222" stroke="#222222" stroke-width="0.18">126 (0)</text>
<text x="443.42" y="191.92" font-size="6.44" text-anchor="middle" fill="#222222" stroke="#222222" stroke-width="0.18">89 (3)</text>
<text x="466.74" y="191.92" font-size="6.44" text-anchor="middle" fill="#222222" stroke="#222222" stroke-width="0.18">44 (15)</text>
<text x="490.07" y="191.92" font-size="6.44" text-anchor="middle" fill="#222222" stroke="#222222" stroke-width="0.18">25 (24)</text>
<text x="513.39" y="191.92" font-size="6.44" text-anchor="middle" fill="#222222" stroke="#222222" stroke-width="0.18">10 (31)</text>
<text x="536.71" y="191.92" font-size="6.44" text-anchor="middle" fill="#222222" stroke="#222222" stroke-width="0.18">6 (33)</text>
<text x="560.03" y="191.92" font-size="6.44" text-anchor="middle" fill="#222222" stroke="#222222" stroke-width="0.18">5 (33)</text>
<text x="583.35" y="191.92" font-size="6.44" text-anchor="middle" fill="#222222" stroke="#222222" stroke-width="0.18">1 (36)</text>
<text x="606.68" y="191.92" font-size="6.44" text-anchor="middle" fill="#222222" stroke="#222222" stroke-width="0.18">1 (36)</text>
<text x="630.00" y="191.92" font-size="6.44" text-anchor="middle" fill="#222222" stroke="#222222" stroke-width="0.18">1 (36)</text>
<text x="653.32" y="191.92" font-size="6.44" text-anchor="middle" fill="#222222" stroke="#222222" stroke-width="0.18">1 (36)</text>
<text x="405.20" y="202.16" font-size="6.28" text-anchor="end" fill="#e3c745" stroke="#e3c745" stroke-width="0.18">HER2-/HR+</text>
<text x="420.10" y="201.82" font-size="6.44" text-anchor="middle" fill="#222222" stroke="#222222" stroke-width="0.18">42 (0)</text>
<text x="443.42" y="201.82" font-size="6.44" text-anchor="middle" fill="#222222" stroke="#222222" stroke-width="0.18">18 (7)</text>
<text x="466.74" y="201.82" font-size="6.44" text-anchor="middle" fill="#222222" stroke="#222222" stroke-width="0.18">2 (18)</text>
<text x="490.07" y="201.82" font-size="6.44" text-anchor="middle" fill="#222222" stroke="#222222" stroke-width="0.18">1 (18)</text>
<text x="513.39" y="201.82" font-size="6.44" text-anchor="middle" fill="#222222" stroke="#222222" stroke-width="0.18">0 (18)</text>
<text x="536.71" y="201.82" font-size="6.44" text-anchor="middle" fill="#222222" stroke="#222222" stroke-width="0.18">0 (18)</text>
<text x="560.03" y="201.82" font-size="6.44" text-anchor="middle" fill="#222222" stroke="#222222" stroke-width="0.18">0 (18)</text>
<text x="583.35" y="201.82" font-size="6.44" text-anchor="middle" fill="#222222" stroke="#222222" stroke-width="0.18">0 (18)</text>
<text x="606.68" y="201.82" font-size="6.44" text-anchor="middle" fill="#222222" stroke="#222222" stroke-width="0.18">0 (18)</text>
<text x="630.00" y="201.82" font-size="6.44" text-anchor="middle" fill="#222222" stroke="#222222" stroke-width="0.18">0 (18)</text>
<text x="653.32" y="201.82" font-size="6.44" text-anchor="middle" fill="#222222" stroke="#222222" stroke-width="0.18">0 (18)</text>
<text x="405.20" y="211.66" font-size="6.28" text-anchor="end" fill="#9a9a9a" stroke="#9a9a9a" stroke-width="0.18">TNBC</text>
<text x="420.10" y="211.32" font-size="6.44" text-anchor="middle" fill="#222222" stroke="#222222" stroke-width="0.18">23 (0)</text>
<text x="443.42" y="211.32" font-size="6.44" text-anchor="middle" fill="#222222" stroke="#222222" stroke-width="0.18">6 (2)</text>
<text x="466.74" y="211.32" font-size="6.44" text-anchor="middle" fill="#222222" stroke="#222222" stroke-width="0.18">1 (4)</text>
<text x="490.07" y="211.32" font-size="6.44" text-anchor="middle" fill="#222222" stroke="#222222" stroke-width="0.18">0 (4)</text>
<text x="513.39" y="211.32" font-size="6.44" text-anchor="middle" fill="#222222" stroke="#222222" stroke-width="0.18">0 (4)</text>
<text x="536.71" y="211.32" font-size="6.44" text-anchor="middle" fill="#222222" stroke="#222222" stroke-width="0.18">0 (4)</text>
<text x="560.03" y="211.32" font-size="6.44" text-anchor="middle" fill="#222222" stroke="#222222" stroke-width="0.18">0 (4)</text>
<text x="583.35" y="211.32" font-size="6.44" text-anchor="middle" fill="#222222" stroke="#222222" stroke-width="0.18">0 (4)</text>
<text x="606.68" y="211.32" font-size="6.44" text-anchor="middle" fill="#222222" stroke="#222222" stroke-width="0.18">0 (4)</text>
<text x="630.00" y="211.32" font-size="6.44" text-anchor="middle" fill="#222222" stroke="#222222" stroke-width="0.18">0 (4)</text>
<text x="653.32" y="211.32" font-size="6.44" text-anchor="middle" fill="#222222" stroke="#222222" stroke-width="0.18">0 (4)</text>
<text x="9.40" y="239.40" font-size="12.68" text-anchor="start" fill="#1a1a1a" textLength="300.70" lengthAdjust="spacingAndGlyphs" stroke="#1a1a1a" stroke-width="0.12">C - TTNT with T-DXd by HER2 changes (primary – met)</text>
<line x1="128.30" y1="256.20" x2="136.50" y2="256.20" stroke="#4584d0" stroke-width="1.0"/>
<path d="M131.40 256.20H133.40M132.40 253.80V258.60" stroke="#4584d0" stroke-width="0.8" fill="none"/>
<text x="140.20" y="258.73" font-size="7.36" text-anchor="start" fill="#333333" textLength="29.90" lengthAdjust="spacingAndGlyphs" stroke="#333333" stroke-width="0.18">Low to Zero</text>
<line x1="174.10" y1="256.20" x2="182.70" y2="256.20" stroke="#e8c21e" stroke-width="1.0"/>
<path d="M177.40 256.20H179.40M178.40 253.80V258.60" stroke="#e8c21e" stroke-width="0.8" fill="none"/>
<text x="186.20" y="258.77" font-size="7.49" text-anchor="start" fill="#333333" textLength="30.40" lengthAdjust="spacingAndGlyphs" stroke="#333333" stroke-width="0.18">Zero to Low</text>
<line x1="220.10" y1="256.20" x2="228.80" y2="256.20" stroke="#808080" stroke-width="1.0"/>
<path d="M223.45 256.20H225.45M224.45 253.80V258.60" stroke="#808080" stroke-width="0.8" fill="none"/>
<text x="231.80" y="258.78" font-size="7.49" text-anchor="start" fill="#333333" textLength="28.50" lengthAdjust="spacingAndGlyphs" stroke="#333333" stroke-width="0.18">Low Stable</text>
<line x1="72.50" y1="272.30" x2="72.50" y2="380.00" stroke="#454545" stroke-width="1.0"/>
<line x1="72.00" y1="379.50" x2="313.20" y2="379.50" stroke="#454545" stroke-width="1.0"/>
<line x1="70.20" y1="374.50" x2="72.00" y2="374.50" stroke="#3a3a3a" stroke-width="1.0"/>
<text x="69.00" y="377.82" font-size="7.34" text-anchor="end" fill="#333333" stroke="#333333" stroke-width="0.18">0.0</text>
<line x1="70.20" y1="354.50" x2="72.00" y2="354.50" stroke="#3a3a3a" stroke-width="1.0"/>
<text x="69.00" y="358.22" font-size="7.34" text-anchor="end" fill="#333333" stroke="#333333" stroke-width="0.18">0.2</text>
<line x1="70.20" y1="335.50" x2="72.00" y2="335.50" stroke="#3a3a3a" stroke-width="1.0"/>
<text x="69.00" y="338.62" font-size="7.34" text-anchor="end" fill="#333333" stroke="#333333" stroke-width="0.18">0.4</text>
<line x1="70.20" y1="315.50" x2="72.00" y2="315.50" stroke="#3a3a3a" stroke-width="1.0"/>
<text x="69.00" y="319.02" font-size="7.34" text-anchor="end" fill="#333333" stroke="#333333" stroke-width="0.18">0.6</text>
<line x1="70.20" y1="296.50" x2="72.00" y2="296.50" stroke="#3a3a3a" stroke-width="1.0"/>
<text x="69.00" y="299.42" font-size="7.34" text-anchor="end" fill="#333333" stroke="#333333" stroke-width="0.18">0.8</text>
<line x1="70.20" y1="276.50" x2="72.00" y2="276.50" stroke="#3a3a3a" stroke-width="1.0"/>
<text x="69.00" y="279.82" font-size="7.34" text-anchor="end" fill="#333333" stroke="#333333" stroke-width="0.18">1.0</text>
<line x1="82.50" y1="380.00" x2="82.50" y2="381.60" stroke="#3a3a3a" stroke-width="1.0"/>
<text x="82.60" y="389.22" font-size="7.34" text-anchor="middle" fill="#333333" stroke="#333333" stroke-width="0.18">0</text>
<line x1="148.50" y1="380.00" x2="148.50" y2="381.60" stroke="#3a3a3a" stroke-width="1.0"/>
<text x="148.48" y="389.22" font-size="7.34" text-anchor="middle" fill="#333333" stroke="#333333" stroke-width="0.18">6</text>
<line x1="214.50" y1="380.00" x2="214.50" y2="381.60" stroke="#3a3a3a" stroke-width="1.0"/>
<text x="214.36" y="389.22" font-size="7.34" text-anchor="middle" fill="#333333" stroke="#333333" stroke-width="0.18">12</text>
<line x1="280.50" y1="380.00" x2="280.50" y2="381.60" stroke="#3a3a3a" stroke-width="1.0"/>
<text x="280.24" y="389.22" font-size="7.34" text-anchor="middle" fill="#333333" stroke="#333333" stroke-width="0.18">18</text>
<text transform="translate(29.37,325.50) rotate(-90)" x="0" y="0" font-size="8.65" text-anchor="middle" fill="#1a1a1a" textLength="90.00" lengthAdjust="spacingAndGlyphs" stroke="#1a1a1a" stroke-width="0.18">Time to Next Treatment</text>
<text x="157.70" y="399.50" font-size="8.42" text-anchor="start" fill="#1a1a1a" textLength="70.50" lengthAdjust="spacingAndGlyphs" stroke="#1a1a1a" stroke-width="0.18">Months from TDXd</text>
<rect x="193.20" y="277.70" width="86.80" height="37.80" fill="#c0c0c0"/>
<text x="236.60" y="284.62" font-size="6.44" text-anchor="middle" fill="#262626" stroke="#262626" stroke-width="0.09">Median TTNT</text>
<text x="236.60" y="294.42" font-size="6.44" text-anchor="middle" fill="#262626" stroke="#262626" stroke-width="0.09">Low to Zero = 3.0 months</text>
<text x="236.60" y="304.42" font-size="6.44" text-anchor="middle" fill="#262626" stroke="#262626" stroke-width="0.09">Zero to Low = 5.6 months</text>
<text x="236.60" y="313.62" font-size="6.44" text-anchor="middle" fill="#262626" stroke="#262626" stroke-width="0.09">Low Stable = 9.4 months</text>
<text x="82.90" y="372.87" font-size="6.88" text-anchor="start" fill="#2a2a2a" textLength="45.40" lengthAdjust="spacingAndGlyphs" stroke="#2a2a2a" stroke-width="0.11">Log Rank = 0.006</text>
<text x="72.10" y="412.87" font-size="6.88" text-anchor="start" fill="#1a1a1a" textLength="104.80" lengthAdjust="spacingAndGlyphs" stroke="#1a1a1a" stroke-width="0.18">Number at risk (number censored)</text>
<path d="M82.50 276.50 L100.50 276.50 L100.50 286.50 L106.50 286.50 L106.50 296.50 L110.50 296.50 L110.50 305.50 L113.50 305.50 L113.50 315.50 L114.50 315.50 L114.50 325.50 L117.50 325.50 L117.50 335.50 L138.50 335.50 L138.50 344.50 L144.50 344.50 L144.50 354.50 L146.50 354.50 L146.50 364.50 L193.50 364.50 L193.50 374.50" stroke="#4584d0" stroke-width="0.9" fill="none" stroke-linejoin="miter"/>
<path d="M82.50 276.50 L100.50 276.50 L100.50 281.50 L103.50 281.50 L103.50 285.50 L106.50 285.50 L106.50 290.50 L120.50 290.50 L120.50 295.50 L125.50 295.50 L125.50 300.50 L131.50 300.50 L131.50 303.50 L132.50 303.50 L132.50 309.50 L140.50 309.50 L140.50 314.50 L142.50 314.50 L142.50 319.50 L144.50 319.50 L144.50 329.50 L159.50 329.50 L159.50 335.50 L255.50 335.50 L255.50 374.50" stroke="#e8c21e" stroke-width="0.9" fill="none" stroke-linejoin="miter"/>
<path d="M134.44 309.50H138.36M136.40 307.20V311.80" stroke="#e8c21e" stroke-width="0.85" fill="none"/>
<path d="M145.84 329.50H149.76M147.80 327.20V331.80" stroke="#e8c21e" stroke-width="0.85" fill="none"/>
<path d="M160.44 335.50H164.36M162.40 333.20V337.80" stroke="#e8c21e" stroke-width="0.85" fill="none"/>
<path d="M161.74 335.50H165.66M163.70 333.20V337.80" stroke="#e8c21e" stroke-width="0.85" fill="none"/>
<path d="M172.44 335.50H176.36M174.40 333.20V337.80" stroke="#e8c21e" stroke-width="0.85" fill="none"/>
<path d="M176.24 335.50H180.16M178.20 333.20V337.80" stroke="#e8c21e" stroke-width="0.85" fill="none"/>
<path d="M180.04 335.50H183.96M182.00 333.20V337.80" stroke="#e8c21e" stroke-width="0.85" fill="none"/>
<path d="M82.50 276.50 L88.50 276.50 L88.50 281.50 L103.50 281.50 L103.50 285.50 L112.50 285.50 L112.50 290.50 L120.50 290.50 L120.50 295.50 L131.50 295.50 L131.50 301.50 L154.50 301.50 L154.50 307.50 L166.50 307.50 L166.50 314.50 L178.50 314.50 L178.50 322.50 L185.50 322.50 L185.50 335.50 L194.50 335.50 L194.50 348.50 L231.50 348.50 L231.50 361.50 L298.50 361.50 L298.50 374.50" stroke="#808080" stroke-width="0.9" fill="none" stroke-linejoin="miter"/>
<path d="M113.55 290.50H117.45M115.50 288.20V292.80" stroke="#808080" stroke-width="0.85" fill="none"/>
<path d="M121.14 295.50H125.05M123.10 293.20V297.80" stroke="#808080" stroke-width="0.85" fill="none"/>
<path d="M123.05 295.50H126.95M125.00 293.20V297.80" stroke="#808080" stroke-width="0.85" fill="none"/>
<path d="M137.34 301.50H141.26M139.30 299.20V303.80" stroke="#808080" stroke-width="0.85" fill="none"/>
<path d="M153.24 307.50H157.16M155.20 305.20V309.80" stroke="#808080" stroke-width="0.85" fill="none"/>
<path d="M171.44 314.50H175.36M173.40 312.20V316.80" stroke="#808080" stroke-width="0.85" fill="none"/>
<path d="M175.24 314.50H179.16M177.20 312.20V316.80" stroke="#808080" stroke-width="0.85" fill="none"/>
<path d="M176.84 322.50H180.76M178.80 320.20V324.80" stroke="#808080" stroke-width="0.85" fill="none"/>
<path d="M181.44 322.50H185.36M183.40 320.20V324.80" stroke="#808080" stroke-width="0.85" fill="none"/>
<text x="68.40" y="427.38" font-size="6.91" text-anchor="end" fill="#4f8ad8" stroke="#4f8ad8" stroke-width="0.18">Low to Zero</text>
<text x="82.60" y="427.12" font-size="7.31" text-anchor="middle" fill="#222222" stroke="#222222" stroke-width="0.18">10 (0)</text>
<text x="148.48" y="427.12" font-size="7.31" text-anchor="middle" fill="#222222" stroke="#222222" stroke-width="0.18">1 (0)</text>
<text x="214.36" y="427.12" font-size="7.31" text-anchor="middle" fill="#222222" stroke="#222222" stroke-width="0.18">0 (0)</text>
<text x="280.24" y="427.12" font-size="7.31" text-anchor="middle" fill="#222222" stroke="#222222" stroke-width="0.18">0 (0)</text>
<text x="68.40" y="438.08" font-size="6.91" text-anchor="end" fill="#e3c745" stroke="#e3c745" stroke-width="0.18">Zero to Low</text>
<text x="82.60" y="437.82" font-size="7.31" text-anchor="middle" fill="#222222" stroke="#222222" stroke-width="0.18">21 (0)</text>
<text x="148.48" y="437.82" font-size="7.31" text-anchor="middle" fill="#222222" stroke="#222222" stroke-width="0.18">7 (3)</text>
<text x="214.36" y="437.82" font-size="7.31" text-anchor="middle" fill="#222222" stroke="#222222" stroke-width="0.18">1 (8)</text>
<text x="280.24" y="437.82" font-size="7.31" text-anchor="middle" fill="#222222" stroke="#222222" stroke-width="0.18">0 (8)</text>
<text x="68.40" y="448.98" font-size="6.91" text-anchor="end" fill="#9a9a9a" stroke="#9a9a9a" stroke-width="0.18">Low Stable</text>
<text x="82.60" y="448.72" font-size="7.31" text-anchor="middle" fill="#222222" stroke="#222222" stroke-width="0.18">21 (0)</text>
<text x="148.48" y="448.72" font-size="7.31" text-anchor="middle" fill="#222222" stroke="#222222" stroke-width="0.18">12 (4)</text>
<text x="214.36" y="448.72" font-size="7.31" text-anchor="middle" fill="#222222" stroke="#222222" stroke-width="0.18">2 (9)</text>
<text x="280.24" y="448.72" font-size="7.31" text-anchor="middle" fill="#222222" stroke="#222222" stroke-width="0.18">1 (9)</text>
<text x="354.90" y="240.60" font-size="12.67" text-anchor="start" fill="#1a1a1a" textLength="280.30" lengthAdjust="spacingAndGlyphs" stroke="#1a1a1a" stroke-width="0.12">D - TTNT with T-DXd by HER2 changes (met – met)</text>
<line x1="472.10" y1="258.20" x2="480.60" y2="258.20" stroke="#4584d0" stroke-width="1.0"/>
<path d="M475.35 258.20H477.35M476.35 255.80V260.60" stroke="#4584d0" stroke-width="0.8" fill="none"/>
<text x="483.80" y="260.54" font-size="6.80" text-anchor="start" fill="#333333" textLength="29.90" lengthAdjust="spacingAndGlyphs" stroke="#333333" stroke-width="0.18">Low to Zero</text>
<line x1="517.90" y1="258.20" x2="526.60" y2="258.20" stroke="#e8c21e" stroke-width="1.0"/>
<path d="M521.25 258.20H523.25M522.25 255.80V260.60" stroke="#e8c21e" stroke-width="0.8" fill="none"/>
<text x="529.60" y="260.52" font-size="6.75" text-anchor="start" fill="#333333" textLength="29.70" lengthAdjust="spacingAndGlyphs" stroke="#333333" stroke-width="0.18">Zero to Low</text>
<line x1="562.80" y1="258.20" x2="571.70" y2="258.20" stroke="#808080" stroke-width="1.0"/>
<path d="M566.25 258.20H568.25M567.25 255.80V260.60" stroke="#808080" stroke-width="0.8" fill="none"/>
<text x="574.50" y="260.58" font-size="6.91" text-anchor="start" fill="#333333" textLength="28.50" lengthAdjust="spacingAndGlyphs" stroke="#333333" stroke-width="0.18">Low Stable</text>
<line x1="417.00" y1="273.40" x2="417.00" y2="380.00" stroke="#c4c4c4" stroke-width="1.6"/>
<line x1="416.20" y1="379.50" x2="654.70" y2="379.50" stroke="#555555" stroke-width="1.0"/>
<line x1="414.40" y1="374.50" x2="416.20" y2="374.50" stroke="#3a3a3a" stroke-width="1.0"/>
<text x="413.40" y="377.73" font-size="7.05" text-anchor="end" fill="#333333" stroke="#333333" stroke-width="0.18">0.0</text>
<line x1="414.40" y1="355.50" x2="416.20" y2="355.50" stroke="#3a3a3a" stroke-width="1.0"/>
<text x="413.40" y="358.33" font-size="7.05" text-anchor="end" fill="#333333" stroke="#333333" stroke-width="0.18">0.2</text>
<line x1="414.40" y1="335.50" x2="416.20" y2="335.50" stroke="#3a3a3a" stroke-width="1.0"/>
<text x="413.40" y="338.93" font-size="7.05" text-anchor="end" fill="#333333" stroke="#333333" stroke-width="0.18">0.4</text>
<line x1="414.40" y1="316.50" x2="416.20" y2="316.50" stroke="#3a3a3a" stroke-width="1.0"/>
<text x="413.40" y="319.53" font-size="7.05" text-anchor="end" fill="#333333" stroke="#333333" stroke-width="0.18">0.6</text>
<line x1="414.40" y1="296.50" x2="416.20" y2="296.50" stroke="#3a3a3a" stroke-width="1.0"/>
<text x="413.40" y="300.13" font-size="7.05" text-anchor="end" fill="#333333" stroke="#333333" stroke-width="0.18">0.8</text>
<line x1="414.40" y1="277.50" x2="416.20" y2="277.50" stroke="#3a3a3a" stroke-width="1.0"/>
<text x="413.40" y="280.73" font-size="7.05" text-anchor="end" fill="#333333" stroke="#333333" stroke-width="0.18">1.0</text>
<line x1="427.50" y1="380.00" x2="427.50" y2="381.60" stroke="#3a3a3a" stroke-width="1.0"/>
<text x="427.40" y="388.63" font-size="7.05" text-anchor="middle" fill="#333333" stroke="#333333" stroke-width="0.18">0</text>
<line x1="492.50" y1="380.00" x2="492.50" y2="381.60" stroke="#3a3a3a" stroke-width="1.0"/>
<text x="492.38" y="388.63" font-size="7.05" text-anchor="middle" fill="#333333" stroke="#333333" stroke-width="0.18">6</text>
<line x1="557.50" y1="380.00" x2="557.50" y2="381.60" stroke="#3a3a3a" stroke-width="1.0"/>
<text x="557.36" y="388.63" font-size="7.05" text-anchor="middle" fill="#333333" stroke="#333333" stroke-width="0.18">12</text>
<line x1="622.50" y1="380.00" x2="622.50" y2="381.60" stroke="#3a3a3a" stroke-width="1.0"/>
<text x="622.34" y="388.63" font-size="7.05" text-anchor="middle" fill="#333333" stroke="#333333" stroke-width="0.18">18</text>
<text transform="translate(374.24,326.00) rotate(-90)" x="0" y="0" font-size="8.55" text-anchor="middle" fill="#1a1a1a" textLength="89.00" lengthAdjust="spacingAndGlyphs" stroke="#1a1a1a" stroke-width="0.18">Time to Next Treatment</text>
<text x="500.90" y="398.98" font-size="8.38" text-anchor="start" fill="#1a1a1a" textLength="70.20" lengthAdjust="spacingAndGlyphs" stroke="#1a1a1a" stroke-width="0.18">Months from TDXd</text>
<rect x="536.10" y="278.90" width="85.90" height="37.20" fill="#c0c0c0"/>
<text x="579.05" y="285.99" font-size="6.38" text-anchor="middle" fill="#262626" stroke="#262626" stroke-width="0.09">Median TTNT</text>
<text x="579.05" y="295.39" font-size="6.38" text-anchor="middle" fill="#262626" stroke="#262626" stroke-width="0.09">Low to Zero = 8.5 months</text>
<text x="579.05" y="304.99" font-size="6.38" text-anchor="middle" fill="#262626" stroke="#262626" stroke-width="0.09">Zero to Low = 5.4 months</text>
<text x="579.05" y="314.59" font-size="6.38" text-anchor="middle" fill="#262626" stroke="#262626" stroke-width="0.09">Low Stable = 8.6 months</text>
<text x="427.30" y="372.84" font-size="6.81" text-anchor="start" fill="#2a2a2a" textLength="41.80" lengthAdjust="spacingAndGlyphs" stroke="#2a2a2a" stroke-width="0.11">Log Rank = 0.41</text>
<text x="416.60" y="412.34" font-size="6.80" text-anchor="start" fill="#1a1a1a" textLength="103.50" lengthAdjust="spacingAndGlyphs" stroke="#1a1a1a" stroke-width="0.18">Number at risk (number censored)</text>
<path d="M427.50 277.50 L447.50 277.50 L447.50 297.50 L461.50 297.50 L461.50 316.50 L519.50 316.50 L519.50 345.50 L537.50 345.50 L537.50 374.50" stroke="#4584d0" stroke-width="0.9" fill="none" stroke-linejoin="miter"/>
<path d="M473.44 316.50H477.35M475.40 314.20V318.80" stroke="#4584d0" stroke-width="0.85" fill="none"/>
<path d="M427.50 277.50 L432.50 277.50 L432.50 282.50 L444.50 282.50 L444.50 288.50 L447.50 288.50 L447.50 292.50 L463.50 292.50 L463.50 298.50 L465.50 298.50 L465.50 301.50 L468.50 301.50 L468.50 304.50 L475.50 304.50 L475.50 310.50 L476.50 310.50 L476.50 316.50 L484.50 316.50 L484.50 325.50 L486.50 325.50 L486.50 331.50 L488.50 331.50 L488.50 338.50 L528.50 338.50 L528.50 356.50 L640.50 356.50 L640.50 374.50" stroke="#e8c21e" stroke-width="0.9" fill="none" stroke-linejoin="miter"/>
<path d="M457.65 292.50H461.56M459.60 290.20V294.80" stroke="#e8c21e" stroke-width="0.85" fill="none"/>
<path d="M462.75 298.50H466.65M464.70 296.20V300.80" stroke="#e8c21e" stroke-width="0.85" fill="none"/>
<path d="M467.15 304.50H471.06M469.10 302.20V306.80" stroke="#e8c21e" stroke-width="0.85" fill="none"/>
<path d="M478.55 316.50H482.45M480.50 314.20V318.80" stroke="#e8c21e" stroke-width="0.85" fill="none"/>
<path d="M505.65 338.50H509.56M507.60 336.20V340.80" stroke="#e8c21e" stroke-width="0.85" fill="none"/>
<path d="M517.44 338.50H521.36M519.40 336.20V340.80" stroke="#e8c21e" stroke-width="0.85" fill="none"/>
<path d="M525.04 338.50H528.96M527.00 336.20V340.80" stroke="#e8c21e" stroke-width="0.85" fill="none"/>
<path d="M526.34 338.50H530.25M528.30 336.20V340.80" stroke="#e8c21e" stroke-width="0.85" fill="none"/>
<path d="M427.50 277.50 L447.50 277.50 L447.50 284.50 L456.50 284.50 L456.50 289.50 L465.50 289.50 L465.50 293.50 L475.50 293.50 L475.50 297.50 L483.50 297.50 L483.50 301.50 L489.50 301.50 L489.50 304.50 L498.50 304.50 L498.50 310.50 L503.50 310.50 L503.50 315.50 L509.50 315.50 L509.50 321.50 L521.50 321.50 L521.50 329.50 L537.50 329.50 L537.50 344.50 L574.50 344.50 L574.50 359.50 L598.50 359.50 L598.50 374.50" stroke="#808080" stroke-width="0.9" fill="none" stroke-linejoin="miter"/>
<path d="M481.35 297.50H485.25M483.30 295.20V299.80" stroke="#808080" stroke-width="0.85" fill="none"/>
<path d="M488.94 304.50H492.85M490.90 302.20V306.80" stroke="#808080" stroke-width="0.85" fill="none"/>
<path d="M489.94 304.50H493.85M491.90 302.20V306.80" stroke="#808080" stroke-width="0.85" fill="none"/>
<path d="M495.65 304.50H499.56M497.60 302.20V306.80" stroke="#808080" stroke-width="0.85" fill="none"/>
<path d="M504.15 315.50H508.06M506.10 313.20V317.80" stroke="#808080" stroke-width="0.85" fill="none"/>
<path d="M505.05 315.50H508.95M507.00 313.20V317.80" stroke="#808080" stroke-width="0.85" fill="none"/>
<path d="M514.54 321.50H518.46M516.50 319.20V323.80" stroke="#808080" stroke-width="0.85" fill="none"/>
<path d="M516.44 321.50H520.36M518.40 319.20V323.80" stroke="#808080" stroke-width="0.85" fill="none"/>
<path d="M520.25 329.50H524.16M522.20 327.20V331.80" stroke="#808080" stroke-width="0.85" fill="none"/>
<path d="M523.14 329.50H527.06M525.10 327.20V331.80" stroke="#808080" stroke-width="0.85" fill="none"/>
<text x="412.90" y="426.81" font-size="6.72" text-anchor="end" fill="#4f8ad8" stroke="#4f8ad8" stroke-width="0.18">Low to Zero</text>
<text x="427.40" y="426.62" font-size="7.31" text-anchor="middle" fill="#222222" stroke="#222222" stroke-width="0.18">5 (0)</text>
<text x="492.38" y="426.62" font-size="7.31" text-anchor="middle" fill="#222222" stroke="#222222" stroke-width="0.18">2 (1)</text>
<text x="557.36" y="426.62" font-size="7.31" text-anchor="middle" fill="#222222" stroke="#222222" stroke-width="0.18">0 (1)</text>
<text x="622.34" y="426.62" font-size="7.31" text-anchor="middle" fill="#222222" stroke="#222222" stroke-width="0.18">0 (1)</text>
<text x="412.90" y="437.31" font-size="6.72" text-anchor="end" fill="#e3c745" stroke="#e3c745" stroke-width="0.18">Zero to Low</text>
<text x="427.40" y="437.12" font-size="7.31" text-anchor="middle" fill="#222222" stroke="#222222" stroke-width="0.18">19 (0)</text>
<text x="492.38" y="437.12" font-size="7.31" text-anchor="middle" fill="#222222" stroke="#222222" stroke-width="0.18">5 (4)</text>
<text x="557.36" y="437.12" font-size="7.31" text-anchor="middle" fill="#222222" stroke="#222222" stroke-width="0.18">1 (7)</text>
<text x="622.34" y="437.12" font-size="7.31" text-anchor="middle" fill="#222222" stroke="#222222" stroke-width="0.18">1 (7)</text>
<text x="412.90" y="447.71" font-size="6.72" text-anchor="end" fill="#9a9a9a" stroke="#9a9a9a" stroke-width="0.18">Low Stable</text>
<text x="427.40" y="447.52" font-size="7.31" text-anchor="middle" fill="#222222" stroke="#222222" stroke-width="0.18">25 (0)</text>
<text x="492.38" y="447.52" font-size="7.31" text-anchor="middle" fill="#222222" stroke="#222222" stroke-width="0.18">14 (4)</text>
<text x="557.36" y="447.52" font-size="7.31" text-anchor="middle" fill="#222222" stroke="#222222" stroke-width="0.18">2 (11)</text>
<text x="622.34" y="447.52" font-size="7.31" text-anchor="middle" fill="#222222" stroke="#222222" stroke-width="0.18">0 (11)</text>
<text x="9.40" y="476.60" font-size="12.72" text-anchor="start" fill="#1a1a1a" textLength="267.70" lengthAdjust="spacingAndGlyphs" stroke="#1a1a1a" stroke-width="0.12">E - OS with T-DXd by HER2 status of the disease</text>
<line x1="153.00" y1="496.00" x2="159.60" y2="496.00" stroke="#4584d0" stroke-width="1.0"/>
<path d="M155.30 496.00H157.30M156.30 494.00V498.00" stroke="#4584d0" stroke-width="0.8" fill="none"/>
<text x="162.50" y="497.71" font-size="4.96" text-anchor="start" fill="#333333" textLength="15.80" lengthAdjust="spacingAndGlyphs" stroke="#333333" stroke-width="0.18">Positive</text>
<line x1="181.20" y1="496.00" x2="187.80" y2="496.00" stroke="#e8c21e" stroke-width="1.0"/>
<path d="M183.50 496.00H185.50M184.50 494.00V498.00" stroke="#e8c21e" stroke-width="0.8" fill="none"/>
<text x="190.50" y="497.69" font-size="4.92" text-anchor="start" fill="#333333" textLength="8.20" lengthAdjust="spacingAndGlyphs" stroke="#333333" stroke-width="0.18">Low</text>
<line x1="201.90" y1="496.00" x2="208.50" y2="496.00" stroke="#808080" stroke-width="1.0"/>
<path d="M204.20 496.00H206.20M205.20 494.00V498.00" stroke="#808080" stroke-width="0.8" fill="none"/>
<text x="211.00" y="497.69" font-size="4.92" text-anchor="start" fill="#333333" textLength="9.20" lengthAdjust="spacingAndGlyphs" stroke="#333333" stroke-width="0.18">Zero</text>
<line x1="37.00" y1="508.50" x2="37.00" y2="596.80" stroke="#c4c4c4" stroke-width="1.6"/>
<line x1="36.20" y1="596.00" x2="333.20" y2="596.00" stroke="#c4c4c4" stroke-width="1.6"/>
<line x1="34.40" y1="592.50" x2="36.20" y2="592.50" stroke="#3a3a3a" stroke-width="1.0"/>
<text x="33.90" y="595.01" font-size="6.13" text-anchor="end" fill="#333333" textLength="7.10" lengthAdjust="spacingAndGlyphs" stroke="#333333" stroke-width="0.18">0.0</text>
<line x1="34.40" y1="576.50" x2="36.20" y2="576.50" stroke="#3a3a3a" stroke-width="1.0"/>
<text x="33.90" y="579.07" font-size="6.13" text-anchor="end" fill="#333333" textLength="7.10" lengthAdjust="spacingAndGlyphs" stroke="#333333" stroke-width="0.18">0.2</text>
<line x1="34.40" y1="560.50" x2="36.20" y2="560.50" stroke="#3a3a3a" stroke-width="1.0"/>
<text x="33.90" y="563.13" font-size="6.13" text-anchor="end" fill="#333333" textLength="7.10" lengthAdjust="spacingAndGlyphs" stroke="#333333" stroke-width="0.18">0.4</text>
<line x1="34.40" y1="544.50" x2="36.20" y2="544.50" stroke="#3a3a3a" stroke-width="1.0"/>
<text x="33.90" y="547.19" font-size="6.13" text-anchor="end" fill="#333333" textLength="7.10" lengthAdjust="spacingAndGlyphs" stroke="#333333" stroke-width="0.18">0.6</text>
<line x1="34.40" y1="528.50" x2="36.20" y2="528.50" stroke="#3a3a3a" stroke-width="1.0"/>
<text x="33.90" y="531.25" font-size="6.13" text-anchor="end" fill="#333333" textLength="7.10" lengthAdjust="spacingAndGlyphs" stroke="#333333" stroke-width="0.18">0.8</text>
<line x1="34.40" y1="512.50" x2="36.20" y2="512.50" stroke="#3a3a3a" stroke-width="1.0"/>
<text x="33.90" y="515.31" font-size="6.13" text-anchor="end" fill="#333333" textLength="7.10" lengthAdjust="spacingAndGlyphs" stroke="#333333" stroke-width="0.18">1.0</text>
<line x1="50.50" y1="596.80" x2="50.50" y2="597.80" stroke="#3a3a3a" stroke-width="1.0"/>
<text x="50.20" y="603.71" font-size="6.13" text-anchor="middle" fill="#333333" textLength="2.84" lengthAdjust="spacingAndGlyphs" stroke="#333333" stroke-width="0.18">0</text>
<line x1="70.50" y1="596.80" x2="70.50" y2="597.80" stroke="#3a3a3a" stroke-width="1.0"/>
<text x="70.40" y="603.71" font-size="6.13" text-anchor="middle" fill="#333333" textLength="2.84" lengthAdjust="spacingAndGlyphs" stroke="#333333" stroke-width="0.18">6</text>
<line x1="90.50" y1="596.80" x2="90.50" y2="597.80" stroke="#3a3a3a" stroke-width="1.0"/>
<text x="90.60" y="603.71" font-size="6.13" text-anchor="middle" fill="#333333" textLength="5.68" lengthAdjust="spacingAndGlyphs" stroke="#333333" stroke-width="0.18">12</text>
<line x1="110.50" y1="596.80" x2="110.50" y2="597.80" stroke="#3a3a3a" stroke-width="1.0"/>
<text x="110.81" y="603.71" font-size="6.13" text-anchor="middle" fill="#333333" textLength="5.68" lengthAdjust="spacingAndGlyphs" stroke="#333333" stroke-width="0.18">18</text>
<line x1="131.50" y1="596.80" x2="131.50" y2="597.80" stroke="#3a3a3a" stroke-width="1.0"/>
<text x="131.01" y="603.71" font-size="6.13" text-anchor="middle" fill="#333333" textLength="5.68" lengthAdjust="spacingAndGlyphs" stroke="#333333" stroke-width="0.18">24</text>
<line x1="151.50" y1="596.80" x2="151.50" y2="597.80" stroke="#3a3a3a" stroke-width="1.0"/>
<text x="151.21" y="603.71" font-size="6.13" text-anchor="middle" fill="#333333" textLength="5.68" lengthAdjust="spacingAndGlyphs" stroke="#333333" stroke-width="0.18">30</text>
<line x1="171.50" y1="596.80" x2="171.50" y2="597.80" stroke="#3a3a3a" stroke-width="1.0"/>
<text x="171.41" y="603.71" font-size="6.13" text-anchor="middle" fill="#333333" textLength="5.68" lengthAdjust="spacingAndGlyphs" stroke="#333333" stroke-width="0.18">36</text>
<line x1="191.50" y1="596.80" x2="191.50" y2="597.80" stroke="#3a3a3a" stroke-width="1.0"/>
<text x="191.61" y="603.71" font-size="6.13" text-anchor="middle" fill="#333333" textLength="5.68" lengthAdjust="spacingAndGlyphs" stroke="#333333" stroke-width="0.18">42</text>
<line x1="211.50" y1="596.80" x2="211.50" y2="597.80" stroke="#3a3a3a" stroke-width="1.0"/>
<text x="211.82" y="603.71" font-size="6.13" text-anchor="middle" fill="#333333" textLength="5.68" lengthAdjust="spacingAndGlyphs" stroke="#333333" stroke-width="0.18">48</text>
<line x1="232.50" y1="596.80" x2="232.50" y2="597.80" stroke="#3a3a3a" stroke-width="1.0"/>
<text x="232.02" y="603.71" font-size="6.13" text-anchor="middle" fill="#333333" textLength="5.68" lengthAdjust="spacingAndGlyphs" stroke="#333333" stroke-width="0.18">54</text>
<line x1="252.50" y1="596.80" x2="252.50" y2="597.80" stroke="#3a3a3a" stroke-width="1.0"/>
<text x="252.22" y="603.71" font-size="6.13" text-anchor="middle" fill="#333333" textLength="5.68" lengthAdjust="spacingAndGlyphs" stroke="#333333" stroke-width="0.18">60</text>
<line x1="272.50" y1="596.80" x2="272.50" y2="597.80" stroke="#3a3a3a" stroke-width="1.0"/>
<text x="272.42" y="603.71" font-size="6.13" text-anchor="middle" fill="#333333" textLength="5.68" lengthAdjust="spacingAndGlyphs" stroke="#333333" stroke-width="0.18">66</text>
<line x1="292.50" y1="596.80" x2="292.50" y2="597.80" stroke="#3a3a3a" stroke-width="1.0"/>
<text x="292.62" y="603.71" font-size="6.13" text-anchor="middle" fill="#333333" textLength="5.68" lengthAdjust="spacingAndGlyphs" stroke="#333333" stroke-width="0.18">72</text>
<line x1="312.50" y1="596.80" x2="312.50" y2="597.80" stroke="#3a3a3a" stroke-width="1.0"/>
<text x="312.83" y="603.71" font-size="6.13" text-anchor="middle" fill="#333333" textLength="5.68" lengthAdjust="spacingAndGlyphs" stroke="#333333" stroke-width="0.18">78</text>
<text transform="translate(12.45,552.40) rotate(-90)" x="0" y="0" font-size="7.70" text-anchor="middle" fill="#1a1a1a" textLength="49.00" lengthAdjust="spacingAndGlyphs" stroke="#1a1a1a" stroke-width="0.18">Overall Survival</text>
<text x="157.50" y="612.49" font-size="7.25" text-anchor="start" fill="#1a1a1a" textLength="55.20" lengthAdjust="spacingAndGlyphs" stroke="#1a1a1a" stroke-width="0.18">Months from TDXd</text>
<rect x="171.40" y="512.80" width="60.30" height="31.00" fill="#c0c0c0"/>
<text x="201.55" y="519.20" font-size="5.53" text-anchor="middle" fill="#262626" textLength="30.64" lengthAdjust="spacingAndGlyphs" stroke="#262626" stroke-width="0.09">Median TTNT</text>
<text x="201.55" y="527.10" font-size="5.53" text-anchor="middle" fill="#262626" textLength="51.00" lengthAdjust="spacingAndGlyphs" stroke="#262626" stroke-width="0.09">Positive = 23.1 months</text>
<text x="201.55" y="535.10" font-size="5.53" text-anchor="middle" fill="#262626" textLength="42.62" lengthAdjust="spacingAndGlyphs" stroke="#262626" stroke-width="0.09">Low = 14.2 months</text>
<text x="201.55" y="542.50" font-size="5.53" text-anchor="middle" fill="#262626" textLength="40.94" lengthAdjust="spacingAndGlyphs" stroke="#262626" stroke-width="0.09">Zero = 9.5 months</text>
<text x="50.30" y="591.32" font-size="6.73" text-anchor="start" fill="#2a2a2a" textLength="39.50" lengthAdjust="spacingAndGlyphs" stroke="#2a2a2a" stroke-width="0.11">Log Rank = 0.004</text>
<text x="36.70" y="623.34" font-size="5.92" text-anchor="start" fill="#1a1a1a" textLength="81.90" lengthAdjust="spacingAndGlyphs" stroke="#1a1a1a" stroke-width="0.18">Number at risk (number censored)</text>
<path d="M50.50 512.50 L57.50 512.50 L57.50 513.50 L60.50 513.50 L60.50 514.50 L62.50 514.50 L62.50 515.50 L65.50 515.50 L67.50 515.50 L67.50 517.50 L69.50 517.50 L69.50 518.50 L71.50 518.50 L71.50 519.50 L73.50 519.50 L73.50 520.50 L75.50 520.50 L75.50 522.50 L77.50 522.50 L77.50 523.50 L80.50 523.50 L80.50 525.50 L82.50 525.50 L82.50 526.50 L84.50 526.50 L84.50 527.50 L87.50 527.50 L87.50 529.50 L89.50 529.50 L89.50 531.50 L91.50 531.50 L91.50 533.50 L92.50 533.50 L92.50 534.50 L95.50 534.50 L95.50 536.50 L97.50 536.50 L97.50 539.50 L103.50 539.50 L106.50 539.50 L106.50 542.50 L110.50 542.50 L112.50 542.50 L112.50 544.50 L115.50 544.50 L115.50 546.50 L119.50 546.50 L119.50 548.50 L123.50 548.50 L125.50 548.50 L125.50 551.50 L128.50 551.50 L128.50 552.50 L131.50 552.50 L131.50 553.50 L134.50 553.50 L134.50 556.50 L136.50 556.50 L136.50 559.50 L140.50 559.50 L143.50 559.50 L143.50 560.50 L164.50 560.50 L164.50 563.50 L169.50 563.50 L169.50 564.50 L171.50 564.50 L171.50 565.50 L175.50 565.50 L175.50 569.50 L214.50 569.50 L214.50 574.50 L284.50 574.50" stroke="#4584d0" stroke-width="0.9" fill="none" stroke-linejoin="miter"/>
<path d="M57.80 513.50H61.20M59.50 511.50V515.50" stroke="#4584d0" stroke-width="0.85" fill="none"/>
<path d="M60.90 515.50H64.30M62.60 513.50V517.50" stroke="#4584d0" stroke-width="0.85" fill="none"/>
<path d="M64.00 515.50H67.40M65.70 513.50V517.50" stroke="#4584d0" stroke-width="0.85" fill="none"/>
<path d="M69.10 518.50H72.50M70.80 516.50V520.50" stroke="#4584d0" stroke-width="0.85" fill="none"/>
<path d="M70.10 519.50H73.50M71.80 517.50V521.50" stroke="#4584d0" stroke-width="0.85" fill="none"/>
<path d="M71.10 519.50H74.50M72.80 517.50V521.50" stroke="#4584d0" stroke-width="0.85" fill="none"/>
<path d="M75.20 522.50H78.60M76.90 520.50V524.50" stroke="#4584d0" stroke-width="0.85" fill="none"/>
<path d="M78.90 525.50H82.30M80.60 523.50V527.50" stroke="#4584d0" stroke-width="0.85" fill="none"/>
<path d="M83.00 527.50H86.40M84.70 525.50V529.50" stroke="#4584d0" stroke-width="0.85" fill="none"/>
<path d="M85.30 527.50H88.70M87.00 525.50V529.50" stroke="#4584d0" stroke-width="0.85" fill="none"/>
<path d="M89.40 531.50H92.80M91.10 529.50V533.50" stroke="#4584d0" stroke-width="0.85" fill="none"/>
<path d="M90.60 533.50H94.00M92.30 531.50V535.50" stroke="#4584d0" stroke-width="0.85" fill="none"/>
<path d="M93.50 534.50H96.90M95.20 532.50V536.50" stroke="#4584d0" stroke-width="0.85" fill="none"/>
<path d="M95.80 536.50H99.20M97.50 534.50V538.50" stroke="#4584d0" stroke-width="0.85" fill="none"/>
<path d="M98.20 539.50H101.60M99.90 537.50V541.50" stroke="#4584d0" stroke-width="0.85" fill="none"/>
<path d="M102.20 539.50H105.60M103.90 537.50V541.50" stroke="#4584d0" stroke-width="0.85" fill="none"/>
<path d="M103.40 539.50H106.80M105.10 537.50V541.50" stroke="#4584d0" stroke-width="0.85" fill="none"/>
<path d="M105.20 542.50H108.60M106.90 540.50V544.50" stroke="#4584d0" stroke-width="0.85" fill="none"/>
<path d="M109.20 542.50H112.60M110.90 540.50V544.50" stroke="#4584d0" stroke-width="0.85" fill="none"/>
<path d="M111.00 544.50H114.40M112.70 542.50V546.50" stroke="#4584d0" stroke-width="0.85" fill="none"/>
<path d="M113.30 544.50H116.70M115.00 542.50V546.50" stroke="#4584d0" stroke-width="0.85" fill="none"/>
<path d="M114.50 546.50H117.90M116.20 544.50V548.50" stroke="#4584d0" stroke-width="0.85" fill="none"/>
<path d="M122.10 548.50H125.50M123.80 546.50V550.50" stroke="#4584d0" stroke-width="0.85" fill="none"/>
<path d="M125.00 551.50H128.40M126.70 549.50V553.50" stroke="#4584d0" stroke-width="0.85" fill="none"/>
<path d="M126.20 551.50H129.60M127.90 549.50V553.50" stroke="#4584d0" stroke-width="0.85" fill="none"/>
<path d="M128.50 552.50H131.90M130.20 550.50V554.50" stroke="#4584d0" stroke-width="0.85" fill="none"/>
<path d="M129.70 552.50H133.10M131.40 550.50V554.50" stroke="#4584d0" stroke-width="0.85" fill="none"/>
<path d="M134.40 556.50H137.80M136.10 554.50V558.50" stroke="#4584d0" stroke-width="0.85" fill="none"/>
<path d="M135.50 559.50H138.90M137.20 557.50V561.50" stroke="#4584d0" stroke-width="0.85" fill="none"/>
<path d="M143.70 560.50H147.10M145.40 558.50V562.50" stroke="#4584d0" stroke-width="0.85" fill="none"/>
<path d="M147.80 560.50H151.20M149.50 558.50V562.50" stroke="#4584d0" stroke-width="0.85" fill="none"/>
<path d="M163.60 563.50H167.00M165.30 561.50V565.50" stroke="#4584d0" stroke-width="0.85" fill="none"/>
<path d="M167.60 563.50H171.00M169.30 561.50V565.50" stroke="#4584d0" stroke-width="0.85" fill="none"/>
<path d="M170.60 565.50H174.00M172.30 563.50V567.50" stroke="#4584d0" stroke-width="0.85" fill="none"/>
<path d="M173.50 565.50H176.90M175.20 563.50V567.50" stroke="#4584d0" stroke-width="0.85" fill="none"/>
<path d="M175.70 569.50H179.10M177.40 567.50V571.50" stroke="#4584d0" stroke-width="0.85" fill="none"/>
<path d="M182.60 569.50H186.00M184.30 567.50V571.50" stroke="#4584d0" stroke-width="0.85" fill="none"/>
<path d="M242.00 574.50H245.40M243.70 572.50V576.50" stroke="#4584d0" stroke-width="0.85" fill="none"/>
<path d="M261.90 574.50H265.30M263.60 572.50V576.50" stroke="#4584d0" stroke-width="0.85" fill="none"/>
<path d="M282.60 574.50H286.00M284.30 572.50V576.50" stroke="#4584d0" stroke-width="0.85" fill="none"/>
<path d="M50.50 512.50 L53.50 512.50 L53.50 513.50 L55.50 513.50 L55.50 514.50 L56.50 514.50 L58.50 514.50 L58.50 515.50 L59.50 515.50 L59.50 516.50 L61.50 516.50 L61.50 517.50 L62.50 517.50 L62.50 518.50 L64.50 518.50 L64.50 519.50 L66.50 519.50 L67.50 519.50 L67.50 522.50 L68.50 522.50 L68.50 525.50 L69.50 525.50 L69.50 526.50 L71.50 526.50 L71.50 528.50 L74.50 528.50 L74.50 529.50 L81.50 529.50 L81.50 534.50 L85.50 534.50 L85.50 535.50 L85.50 544.50 L97.50 544.50 L97.50 553.50 L115.50 553.50 L115.50 563.50 L133.50 563.50 L133.50 577.50 L136.50 577.50 L136.50 592.50" stroke="#e8c21e" stroke-width="0.9" fill="none" stroke-linejoin="miter"/>
<path d="M64.00 519.50H67.40M65.70 517.50V521.50" stroke="#e8c21e" stroke-width="0.85" fill="none"/>
<path d="M66.00 522.50H69.40M67.70 520.50V524.50" stroke="#e8c21e" stroke-width="0.85" fill="none"/>
<path d="M71.10 528.50H74.50M72.80 526.50V530.50" stroke="#e8c21e" stroke-width="0.85" fill="none"/>
<path d="M73.20 529.50H76.60M74.90 527.50V531.50" stroke="#e8c21e" stroke-width="0.85" fill="none"/>
<path d="M74.20 529.50H77.60M75.90 527.50V531.50" stroke="#e8c21e" stroke-width="0.85" fill="none"/>
<path d="M75.20 529.50H78.60M76.90 527.50V531.50" stroke="#e8c21e" stroke-width="0.85" fill="none"/>
<path d="M76.20 529.50H79.60M77.90 527.50V531.50" stroke="#e8c21e" stroke-width="0.85" fill="none"/>
<path d="M77.20 529.50H80.60M78.90 527.50V531.50" stroke="#e8c21e" stroke-width="0.85" fill="none"/>
<path d="M78.30 529.50H81.70M80.00 527.50V531.50" stroke="#e8c21e" stroke-width="0.85" fill="none"/>
<path d="M82.30 534.50H85.70M84.00 532.50V536.50" stroke="#e8c21e" stroke-width="0.85" fill="none"/>
<path d="M84.40 544.50H87.80M86.10 542.50V546.50" stroke="#e8c21e" stroke-width="0.85" fill="none"/>
<path d="M115.00 563.50H118.40M116.70 561.50V565.50" stroke="#e8c21e" stroke-width="0.85" fill="none"/>
<path d="M50.50 512.50 L55.50 512.50 L55.50 514.50 L57.50 514.50 L57.50 515.50 L58.50 515.50 L58.50 516.50 L58.50 527.50 L59.50 527.50 L59.50 531.50 L63.50 531.50 L63.50 535.50 L66.50 535.50 L66.50 538.50 L82.50 538.50 L82.50 552.50 L145.50 552.50 L145.50 592.50" stroke="#808080" stroke-width="0.9" fill="none" stroke-linejoin="miter"/>
<path d="M66.00 538.50H69.40M67.70 536.50V540.50" stroke="#808080" stroke-width="0.85" fill="none"/>
<path d="M68.00 538.50H71.40M69.70 536.50V540.50" stroke="#808080" stroke-width="0.85" fill="none"/>
<path d="M70.10 538.50H73.50M71.80 536.50V540.50" stroke="#808080" stroke-width="0.85" fill="none"/>
<path d="M73.20 538.50H76.60M74.90 536.50V540.50" stroke="#808080" stroke-width="0.85" fill="none"/>
<path d="M75.20 538.50H78.60M76.90 536.50V540.50" stroke="#808080" stroke-width="0.85" fill="none"/>
<path d="M77.20 538.50H80.60M78.90 536.50V540.50" stroke="#808080" stroke-width="0.85" fill="none"/>
<path d="M80.30 538.50H83.70M82.00 536.50V540.50" stroke="#808080" stroke-width="0.85" fill="none"/>
<path d="M82.30 552.50H85.70M84.00 550.50V554.50" stroke="#808080" stroke-width="0.85" fill="none"/>
<text x="34.00" y="635.22" font-size="6.16" text-anchor="end" fill="#4f8ad8" textLength="19.60" lengthAdjust="spacingAndGlyphs" stroke="#4f8ad8" stroke-width="0.18">Positive</text>
<text x="50.20" y="634.86" font-size="6.28" text-anchor="middle" fill="#222222" textLength="18.10" lengthAdjust="spacingAndGlyphs" stroke="#222222" stroke-width="0.18">126 (0)</text>
<text x="70.40" y="634.86" font-size="6.28" text-anchor="middle" fill="#222222" textLength="17.68" lengthAdjust="spacingAndGlyphs" stroke="#222222" stroke-width="0.18">113 (3)</text>
<text x="90.60" y="634.86" font-size="6.28" text-anchor="middle" fill="#222222" textLength="18.10" lengthAdjust="spacingAndGlyphs" stroke="#222222" stroke-width="0.18">77 (20)</text>
<text x="110.81" y="634.86" font-size="6.28" text-anchor="middle" fill="#222222" textLength="18.10" lengthAdjust="spacingAndGlyphs" stroke="#222222" stroke-width="0.18">48 (37)</text>
<text x="131.01" y="634.86" font-size="6.28" text-anchor="middle" fill="#222222" textLength="18.10" lengthAdjust="spacingAndGlyphs" stroke="#222222" stroke-width="0.18">26 (50)</text>
<text x="151.21" y="634.86" font-size="6.28" text-anchor="middle" fill="#222222" textLength="18.10" lengthAdjust="spacingAndGlyphs" stroke="#222222" stroke-width="0.18">15 (56)</text>
<text x="171.41" y="634.86" font-size="6.28" text-anchor="middle" fill="#222222" textLength="18.10" lengthAdjust="spacingAndGlyphs" stroke="#222222" stroke-width="0.18">10 (59)</text>
<text x="191.61" y="634.86" font-size="6.28" text-anchor="middle" fill="#222222" textLength="14.92" lengthAdjust="spacingAndGlyphs" stroke="#222222" stroke-width="0.18">4 (64)</text>
<text x="211.82" y="634.86" font-size="6.28" text-anchor="middle" fill="#222222" textLength="14.92" lengthAdjust="spacingAndGlyphs" stroke="#222222" stroke-width="0.18">4 (64)</text>
<text x="232.02" y="634.86" font-size="6.28" text-anchor="middle" fill="#222222" textLength="14.92" lengthAdjust="spacingAndGlyphs" stroke="#222222" stroke-width="0.18">3 (64)</text>
<text x="252.22" y="634.86" font-size="6.28" text-anchor="middle" fill="#222222" textLength="14.92" lengthAdjust="spacingAndGlyphs" stroke="#222222" stroke-width="0.18">2 (65)</text>
<text x="272.42" y="634.86" font-size="6.28" text-anchor="middle" fill="#222222" textLength="14.92" lengthAdjust="spacingAndGlyphs" stroke="#222222" stroke-width="0.18">1 (66)</text>
<text x="292.62" y="634.86" font-size="6.28" text-anchor="middle" fill="#222222" textLength="14.92" lengthAdjust="spacingAndGlyphs" stroke="#222222" stroke-width="0.18">0 (67)</text>
<text x="312.83" y="634.86" font-size="6.28" text-anchor="middle" fill="#222222" textLength="14.92" lengthAdjust="spacingAndGlyphs" stroke="#222222" stroke-width="0.18">0 (67)</text>
<text x="34.00" y="644.12" font-size="6.16" text-anchor="end" fill="#e3c745" textLength="10.27" lengthAdjust="spacingAndGlyphs" stroke="#e3c745" stroke-width="0.18">Low</text>
<text x="50.20" y="643.76" font-size="6.28" text-anchor="middle" fill="#222222" textLength="14.92" lengthAdjust="spacingAndGlyphs" stroke="#222222" stroke-width="0.18">44 (0)</text>
<text x="70.40" y="643.76" font-size="6.28" text-anchor="middle" fill="#222222" textLength="18.10" lengthAdjust="spacingAndGlyphs" stroke="#222222" stroke-width="0.18">27 (10)</text>
<text x="90.60" y="643.76" font-size="6.28" text-anchor="middle" fill="#222222" textLength="14.92" lengthAdjust="spacingAndGlyphs" stroke="#222222" stroke-width="0.18">5 (29)</text>
<text x="110.81" y="643.76" font-size="6.28" text-anchor="middle" fill="#222222" textLength="14.92" lengthAdjust="spacingAndGlyphs" stroke="#222222" stroke-width="0.18">4 (29)</text>
<text x="131.01" y="643.76" font-size="6.28" text-anchor="middle" fill="#222222" textLength="14.92" lengthAdjust="spacingAndGlyphs" stroke="#222222" stroke-width="0.18">2 (30)</text>
<text x="151.21" y="643.76" font-size="6.28" text-anchor="middle" fill="#222222" textLength="14.92" lengthAdjust="spacingAndGlyphs" stroke="#222222" stroke-width="0.18">0 (30)</text>
<text x="171.41" y="643.76" font-size="6.28" text-anchor="middle" fill="#222222" textLength="14.92" lengthAdjust="spacingAndGlyphs" stroke="#222222" stroke-width="0.18">0 (30)</text>
<text x="191.61" y="643.76" font-size="6.28" text-anchor="middle" fill="#222222" textLength="14.92" lengthAdjust="spacingAndGlyphs" stroke="#222222" stroke-width="0.18">0 (30)</text>
<text x="211.82" y="643.76" font-size="6.28" text-anchor="middle" fill="#222222" textLength="14.92" lengthAdjust="spacingAndGlyphs" stroke="#222222" stroke-width="0.18">0 (30)</text>
<text x="232.02" y="643.76" font-size="6.28" text-anchor="middle" fill="#222222" textLength="14.92" lengthAdjust="spacingAndGlyphs" stroke="#222222" stroke-width="0.18">0 (30)</text>
<text x="252.22" y="643.76" font-size="6.28" text-anchor="middle" fill="#222222" textLength="14.92" lengthAdjust="spacingAndGlyphs" stroke="#222222" stroke-width="0.18">0 (30)</text>
<text x="272.42" y="643.76" font-size="6.28" text-anchor="middle" fill="#222222" textLength="14.92" lengthAdjust="spacingAndGlyphs" stroke="#222222" stroke-width="0.18">0 (30)</text>
<text x="292.62" y="643.76" font-size="6.28" text-anchor="middle" fill="#222222" textLength="14.92" lengthAdjust="spacingAndGlyphs" stroke="#222222" stroke-width="0.18">0 (30)</text>
<text x="312.83" y="643.76" font-size="6.28" text-anchor="middle" fill="#222222" textLength="14.92" lengthAdjust="spacingAndGlyphs" stroke="#222222" stroke-width="0.18">0 (30)</text>
<text x="34.00" y="652.62" font-size="6.16" text-anchor="end" fill="#9a9a9a" textLength="11.51" lengthAdjust="spacingAndGlyphs" stroke="#9a9a9a" stroke-width="0.18">Zero</text>
<text x="50.20" y="652.26" font-size="6.28" text-anchor="middle" fill="#222222" textLength="14.92" lengthAdjust="spacingAndGlyphs" stroke="#222222" stroke-width="0.18">21 (0)</text>
<text x="70.40" y="652.26" font-size="6.28" text-anchor="middle" fill="#222222" textLength="14.92" lengthAdjust="spacingAndGlyphs" stroke="#222222" stroke-width="0.18">10 (4)</text>
<text x="90.60" y="652.26" font-size="6.28" text-anchor="middle" fill="#222222" textLength="14.92" lengthAdjust="spacingAndGlyphs" stroke="#222222" stroke-width="0.18">1 (12)</text>
<text x="110.81" y="652.26" font-size="6.28" text-anchor="middle" fill="#222222" textLength="14.92" lengthAdjust="spacingAndGlyphs" stroke="#222222" stroke-width="0.18">1 (12)</text>
<text x="131.01" y="652.26" font-size="6.28" text-anchor="middle" fill="#222222" textLength="14.92" lengthAdjust="spacingAndGlyphs" stroke="#222222" stroke-width="0.18">1 (12)</text>
<text x="151.21" y="652.26" font-size="6.28" text-anchor="middle" fill="#222222" textLength="14.92" lengthAdjust="spacingAndGlyphs" stroke="#222222" stroke-width="0.18">0 (12)</text>
<text x="171.41" y="652.26" font-size="6.28" text-anchor="middle" fill="#222222" textLength="14.92" lengthAdjust="spacingAndGlyphs" stroke="#222222" stroke-width="0.18">0 (12)</text>
<text x="191.61" y="652.26" font-size="6.28" text-anchor="middle" fill="#222222" textLength="14.92" lengthAdjust="spacingAndGlyphs" stroke="#222222" stroke-width="0.18">0 (12)</text>
<text x="211.82" y="652.26" font-size="6.28" text-anchor="middle" fill="#222222" textLength="14.92" lengthAdjust="spacingAndGlyphs" stroke="#222222" stroke-width="0.18">0 (12)</text>
<text x="232.02" y="652.26" font-size="6.28" text-anchor="middle" fill="#222222" textLength="14.92" lengthAdjust="spacingAndGlyphs" stroke="#222222" stroke-width="0.18">0 (12)</text>
<text x="252.22" y="652.26" font-size="6.28" text-anchor="middle" fill="#222222" textLength="14.92" lengthAdjust="spacingAndGlyphs" stroke="#222222" stroke-width="0.18">0 (12)</text>
<text x="272.42" y="652.26" font-size="6.28" text-anchor="middle" fill="#222222" textLength="14.92" lengthAdjust="spacingAndGlyphs" stroke="#222222" stroke-width="0.18">0 (12)</text>
<text x="292.62" y="652.26" font-size="6.28" text-anchor="middle" fill="#222222" textLength="14.92" lengthAdjust="spacingAndGlyphs" stroke="#222222" stroke-width="0.18">0 (12)</text>
<text x="312.83" y="652.26" font-size="6.28" text-anchor="middle" fill="#222222" textLength="14.92" lengthAdjust="spacingAndGlyphs" stroke="#222222" stroke-width="0.18">0 (12)</text>
<text x="354.90" y="476.60" font-size="12.68" text-anchor="start" fill="#1a1a1a" textLength="280.40" lengthAdjust="spacingAndGlyphs" stroke="#1a1a1a" stroke-width="0.12">F - OS with T-DXd by clinical subtype of the disease</text>
<line x1="494.90" y1="495.80" x2="500.70" y2="495.80" stroke="#4584d0" stroke-width="1.0"/>
<path d="M496.80 495.80H498.80M497.80 493.80V497.80" stroke="#4584d0" stroke-width="0.8" fill="none"/>
<text x="503.10" y="497.47" font-size="4.85" text-anchor="start" fill="#333333" textLength="13.70" lengthAdjust="spacingAndGlyphs" stroke="#333333" stroke-width="0.18">HER2+</text>
<line x1="519.40" y1="495.80" x2="525.90" y2="495.80" stroke="#e8c21e" stroke-width="1.0"/>
<path d="M521.65 495.80H523.65M522.65 493.80V497.80" stroke="#e8c21e" stroke-width="0.8" fill="none"/>
<text x="528.20" y="497.40" font-size="4.66" text-anchor="start" fill="#333333" textLength="21.50" lengthAdjust="spacingAndGlyphs" stroke="#333333" stroke-width="0.18">HER2-/HR+</text>
<line x1="552.70" y1="495.80" x2="558.50" y2="495.80" stroke="#808080" stroke-width="1.0"/>
<path d="M554.60 495.80H556.60M555.60 493.80V497.80" stroke="#808080" stroke-width="0.8" fill="none"/>
<text x="561.50" y="497.33" font-size="4.44" text-anchor="start" fill="#333333" textLength="10.50" lengthAdjust="spacingAndGlyphs" stroke="#333333" stroke-width="0.18">TNBC</text>
<line x1="386.00" y1="507.80" x2="386.00" y2="593.10" stroke="#c8c8c8" stroke-width="1.6"/>
<line x1="385.20" y1="592.50" x2="678.40" y2="592.50" stroke="#a8a8a8" stroke-width="1.2"/>
<line x1="383.40" y1="589.50" x2="385.20" y2="589.50" stroke="#3a3a3a" stroke-width="1.0"/>
<text x="383.10" y="592.33" font-size="7.36" text-anchor="end" fill="#333333" textLength="6.60" lengthAdjust="spacingAndGlyphs" stroke="#333333" stroke-width="0.18">0.0</text>
<line x1="383.40" y1="573.50" x2="385.20" y2="573.50" stroke="#3a3a3a" stroke-width="1.0"/>
<text x="383.10" y="576.73" font-size="7.36" text-anchor="end" fill="#333333" textLength="6.60" lengthAdjust="spacingAndGlyphs" stroke="#333333" stroke-width="0.18">0.2</text>
<line x1="383.40" y1="557.50" x2="385.20" y2="557.50" stroke="#3a3a3a" stroke-width="1.0"/>
<text x="383.10" y="561.13" font-size="7.36" text-anchor="end" fill="#333333" textLength="6.60" lengthAdjust="spacingAndGlyphs" stroke="#333333" stroke-width="0.18">0.4</text>
<line x1="383.40" y1="542.50" x2="385.20" y2="542.50" stroke="#3a3a3a" stroke-width="1.0"/>
<text x="383.10" y="545.53" font-size="7.36" text-anchor="end" fill="#333333" textLength="6.60" lengthAdjust="spacingAndGlyphs" stroke="#333333" stroke-width="0.18">0.6</text>
<line x1="383.40" y1="526.50" x2="385.20" y2="526.50" stroke="#3a3a3a" stroke-width="1.0"/>
<text x="383.10" y="529.93" font-size="7.36" text-anchor="end" fill="#333333" textLength="6.60" lengthAdjust="spacingAndGlyphs" stroke="#333333" stroke-width="0.18">0.8</text>
<line x1="383.40" y1="511.50" x2="385.20" y2="511.50" stroke="#3a3a3a" stroke-width="1.0"/>
<text x="383.10" y="514.33" font-size="7.36" text-anchor="end" fill="#333333" textLength="6.60" lengthAdjust="spacingAndGlyphs" stroke="#333333" stroke-width="0.18">1.0</text>
<line x1="399.50" y1="593.10" x2="399.50" y2="594.10" stroke="#3a3a3a" stroke-width="1.0"/>
<text x="399.20" y="601.03" font-size="7.36" text-anchor="middle" fill="#333333" textLength="2.64" lengthAdjust="spacingAndGlyphs" stroke="#333333" stroke-width="0.18">0</text>
<line x1="419.50" y1="593.10" x2="419.50" y2="594.10" stroke="#3a3a3a" stroke-width="1.0"/>
<text x="419.16" y="601.03" font-size="7.36" text-anchor="middle" fill="#333333" textLength="2.64" lengthAdjust="spacingAndGlyphs" stroke="#333333" stroke-width="0.18">6</text>
<line x1="439.50" y1="593.10" x2="439.50" y2="594.10" stroke="#3a3a3a" stroke-width="1.0"/>
<text x="439.12" y="601.03" font-size="7.36" text-anchor="middle" fill="#333333" textLength="5.28" lengthAdjust="spacingAndGlyphs" stroke="#333333" stroke-width="0.18">12</text>
<line x1="459.50" y1="593.10" x2="459.50" y2="594.10" stroke="#3a3a3a" stroke-width="1.0"/>
<text x="459.09" y="601.03" font-size="7.36" text-anchor="middle" fill="#333333" textLength="5.28" lengthAdjust="spacingAndGlyphs" stroke="#333333" stroke-width="0.18">18</text>
<line x1="479.50" y1="593.10" x2="479.50" y2="594.10" stroke="#3a3a3a" stroke-width="1.0"/>
<text x="479.05" y="601.03" font-size="7.36" text-anchor="middle" fill="#333333" textLength="5.28" lengthAdjust="spacingAndGlyphs" stroke="#333333" stroke-width="0.18">24</text>
<line x1="499.50" y1="593.10" x2="499.50" y2="594.10" stroke="#3a3a3a" stroke-width="1.0"/>
<text x="499.01" y="601.03" font-size="7.36" text-anchor="middle" fill="#333333" textLength="5.28" lengthAdjust="spacingAndGlyphs" stroke="#333333" stroke-width="0.18">30</text>
<line x1="518.50" y1="593.10" x2="518.50" y2="594.10" stroke="#3a3a3a" stroke-width="1.0"/>
<text x="518.97" y="601.03" font-size="7.36" text-anchor="middle" fill="#333333" textLength="5.28" lengthAdjust="spacingAndGlyphs" stroke="#333333" stroke-width="0.18">36</text>
<line x1="538.50" y1="593.10" x2="538.50" y2="594.10" stroke="#3a3a3a" stroke-width="1.0"/>
<text x="538.93" y="601.03" font-size="7.36" text-anchor="middle" fill="#333333" textLength="5.28" lengthAdjust="spacingAndGlyphs" stroke="#333333" stroke-width="0.18">42</text>
<line x1="558.50" y1="593.10" x2="558.50" y2="594.10" stroke="#3a3a3a" stroke-width="1.0"/>
<text x="558.90" y="601.03" font-size="7.36" text-anchor="middle" fill="#333333" textLength="5.28" lengthAdjust="spacingAndGlyphs" stroke="#333333" stroke-width="0.18">48</text>
<line x1="578.50" y1="593.10" x2="578.50" y2="594.10" stroke="#3a3a3a" stroke-width="1.0"/>
<text x="578.86" y="601.03" font-size="7.36" text-anchor="middle" fill="#333333" textLength="5.28" lengthAdjust="spacingAndGlyphs" stroke="#333333" stroke-width="0.18">54</text>
<line x1="598.50" y1="593.10" x2="598.50" y2="594.10" stroke="#3a3a3a" stroke-width="1.0"/>
<text x="598.82" y="601.03" font-size="7.36" text-anchor="middle" fill="#333333" textLength="5.28" lengthAdjust="spacingAndGlyphs" stroke="#333333" stroke-width="0.18">60</text>
<line x1="618.50" y1="593.10" x2="618.50" y2="594.10" stroke="#3a3a3a" stroke-width="1.0"/>
<text x="618.78" y="601.03" font-size="7.36" text-anchor="middle" fill="#333333" textLength="5.28" lengthAdjust="spacingAndGlyphs" stroke="#333333" stroke-width="0.18">66</text>
<line x1="638.50" y1="593.10" x2="638.50" y2="594.10" stroke="#3a3a3a" stroke-width="1.0"/>
<text x="638.74" y="601.03" font-size="7.36" text-anchor="middle" fill="#333333" textLength="5.28" lengthAdjust="spacingAndGlyphs" stroke="#333333" stroke-width="0.18">72</text>
<line x1="658.50" y1="593.10" x2="658.50" y2="594.10" stroke="#3a3a3a" stroke-width="1.0"/>
<text x="658.71" y="601.03" font-size="7.36" text-anchor="middle" fill="#333333" textLength="5.28" lengthAdjust="spacingAndGlyphs" stroke="#333333" stroke-width="0.18">78</text>
<text transform="translate(356.30,550.40) rotate(-90)" x="0" y="0" font-size="8.73" text-anchor="middle" fill="#1a1a1a" textLength="47.00" lengthAdjust="spacingAndGlyphs" stroke="#1a1a1a" stroke-width="0.18">Overall Survival</text>
<text x="507.10" y="608.77" font-size="7.75" text-anchor="start" fill="#1a1a1a" textLength="49.90" lengthAdjust="spacingAndGlyphs" stroke="#1a1a1a" stroke-width="0.18">Months from TDXd</text>
<rect x="518.90" y="512.40" width="59.70" height="30.10" fill="#c0c0c0"/>
<text x="548.75" y="518.37" font-size="6.01" text-anchor="middle" fill="#262626" textLength="28.15" lengthAdjust="spacingAndGlyphs" stroke="#262626" stroke-width="0.09">Median TTNT</text>
<text x="548.75" y="525.87" font-size="6.01" text-anchor="middle" fill="#262626" textLength="45.71" lengthAdjust="spacingAndGlyphs" stroke="#262626" stroke-width="0.09">HER2+ = 23.1 months</text>
<text x="548.75" y="533.77" font-size="6.01" text-anchor="middle" fill="#262626" textLength="55.20" lengthAdjust="spacingAndGlyphs" stroke="#262626" stroke-width="0.09">HER2-/HR+ = 24.7 months</text>
<text x="548.75" y="541.07" font-size="6.01" text-anchor="middle" fill="#262626" textLength="43.26" lengthAdjust="spacingAndGlyphs" stroke="#262626" stroke-width="0.09">TNBC = 10.7 months</text>
<text x="398.90" y="587.91" font-size="7.31" text-anchor="start" fill="#2a2a2a" textLength="36.20" lengthAdjust="spacingAndGlyphs" stroke="#2a2a2a" stroke-width="0.11">Log Rank = 0.003</text>
<text x="385.90" y="619.49" font-size="6.38" text-anchor="start" fill="#1a1a1a" textLength="74.70" lengthAdjust="spacingAndGlyphs" stroke="#1a1a1a" stroke-width="0.18">Number at risk (number censored)</text>
<path d="M398.50 511.50 L407.50 511.50 L407.50 512.50 L409.50 512.50 L409.50 513.50 L412.50 513.50 L412.50 514.50 L414.50 514.50 L414.50 515.50 L416.50 515.50 L416.50 516.50 L418.50 516.50 L418.50 517.50 L421.50 517.50 L421.50 518.50 L423.50 518.50 L423.50 519.50 L425.50 519.50 L425.50 521.50 L426.50 521.50 L426.50 523.50 L428.50 523.50 L428.50 524.50 L430.50 524.50 L431.50 524.50 L431.50 525.50 L433.50 525.50 L433.50 526.50 L435.50 526.50 L435.50 527.50 L437.50 527.50 L437.50 528.50 L438.50 528.50 L438.50 530.50 L440.50 530.50 L440.50 532.50 L442.50 532.50 L442.50 533.50 L444.50 533.50 L444.50 535.50 L445.50 535.50 L445.50 536.50 L446.50 536.50 L446.50 537.50 L450.50 537.50 L450.50 538.50 L455.50 538.50 L456.50 538.50 L456.50 540.50 L458.50 540.50 L458.50 541.50 L461.50 541.50 L461.50 542.50 L464.50 542.50 L464.50 543.50 L466.50 543.50 L466.50 545.50 L469.50 545.50 L469.50 546.50 L472.50 546.50 L472.50 548.50 L475.50 548.50 L475.50 550.50 L479.50 550.50 L479.50 552.50 L481.50 552.50 L481.50 555.50 L484.50 555.50 L484.50 558.50 L491.50 558.50 L491.50 559.50 L512.50 559.50 L512.50 561.50 L520.50 561.50 L520.50 563.50 L523.50 563.50 L523.50 566.50 L561.50 566.50 L561.50 572.50 L630.50 572.50" stroke="#4584d0" stroke-width="0.9" fill="none" stroke-linejoin="miter"/>
<path d="M411.30 514.50H414.70M413.00 512.50V516.50" stroke="#4584d0" stroke-width="0.85" fill="none"/>
<path d="M412.10 514.50H415.50M413.80 512.50V516.50" stroke="#4584d0" stroke-width="0.85" fill="none"/>
<path d="M418.70 517.50H422.10M420.40 515.50V519.50" stroke="#4584d0" stroke-width="0.85" fill="none"/>
<path d="M419.10 517.50H422.50M420.80 515.50V519.50" stroke="#4584d0" stroke-width="0.85" fill="none"/>
<path d="M422.60 519.50H426.00M424.30 517.50V521.50" stroke="#4584d0" stroke-width="0.85" fill="none"/>
<path d="M423.50 519.50H426.90M425.20 517.50V521.50" stroke="#4584d0" stroke-width="0.85" fill="none"/>
<path d="M427.00 524.50H430.40M428.70 522.50V526.50" stroke="#4584d0" stroke-width="0.85" fill="none"/>
<path d="M428.30 524.50H431.70M430.00 522.50V526.50" stroke="#4584d0" stroke-width="0.85" fill="none"/>
<path d="M431.00 525.50H434.40M432.70 523.50V527.50" stroke="#4584d0" stroke-width="0.85" fill="none"/>
<path d="M432.30 526.50H435.70M434.00 524.50V528.50" stroke="#4584d0" stroke-width="0.85" fill="none"/>
<path d="M434.00 527.50H437.40M435.70 525.50V529.50" stroke="#4584d0" stroke-width="0.85" fill="none"/>
<path d="M436.20 528.50H439.60M437.90 526.50V530.50" stroke="#4584d0" stroke-width="0.85" fill="none"/>
<path d="M438.00 530.50H441.40M439.70 528.50V532.50" stroke="#4584d0" stroke-width="0.85" fill="none"/>
<path d="M439.30 532.50H442.70M441.00 530.50V534.50" stroke="#4584d0" stroke-width="0.85" fill="none"/>
<path d="M441.00 533.50H444.40M442.70 531.50V535.50" stroke="#4584d0" stroke-width="0.85" fill="none"/>
<path d="M441.90 533.50H445.30M443.60 531.50V535.50" stroke="#4584d0" stroke-width="0.85" fill="none"/>
<path d="M445.80 537.50H449.20M447.50 535.50V539.50" stroke="#4584d0" stroke-width="0.85" fill="none"/>
<path d="M447.60 537.50H451.00M449.30 535.50V539.50" stroke="#4584d0" stroke-width="0.85" fill="none"/>
<path d="M450.20 538.50H453.60M451.90 536.50V540.50" stroke="#4584d0" stroke-width="0.85" fill="none"/>
<path d="M452.00 538.50H455.40M453.70 536.50V540.50" stroke="#4584d0" stroke-width="0.85" fill="none"/>
<path d="M454.80 538.50H458.20M456.50 536.50V540.50" stroke="#4584d0" stroke-width="0.85" fill="none"/>
<path d="M456.90 541.50H460.30M458.60 539.50V543.50" stroke="#4584d0" stroke-width="0.85" fill="none"/>
<path d="M459.90 542.50H463.30M461.60 540.50V544.50" stroke="#4584d0" stroke-width="0.85" fill="none"/>
<path d="M461.00 542.50H464.40M462.70 540.50V544.50" stroke="#4584d0" stroke-width="0.85" fill="none"/>
<path d="M469.10 546.50H472.50M470.80 544.50V548.50" stroke="#4584d0" stroke-width="0.85" fill="none"/>
<path d="M471.20 548.50H474.60M472.90 546.50V550.50" stroke="#4584d0" stroke-width="0.85" fill="none"/>
<path d="M473.20 548.50H476.60M474.90 546.50V550.50" stroke="#4584d0" stroke-width="0.85" fill="none"/>
<path d="M475.30 550.50H478.70M477.00 548.50V552.50" stroke="#4584d0" stroke-width="0.85" fill="none"/>
<path d="M478.30 552.50H481.70M480.00 550.50V554.50" stroke="#4584d0" stroke-width="0.85" fill="none"/>
<path d="M481.40 555.50H484.80M483.10 553.50V557.50" stroke="#4584d0" stroke-width="0.85" fill="none"/>
<path d="M483.40 558.50H486.80M485.10 556.50V560.50" stroke="#4584d0" stroke-width="0.85" fill="none"/>
<path d="M489.60 558.50H493.00M491.30 556.50V560.50" stroke="#4584d0" stroke-width="0.85" fill="none"/>
<path d="M491.60 559.50H495.00M493.30 557.50V561.50" stroke="#4584d0" stroke-width="0.85" fill="none"/>
<path d="M494.70 559.50H498.10M496.40 557.50V561.50" stroke="#4584d0" stroke-width="0.85" fill="none"/>
<path d="M495.70 559.50H499.10M497.40 557.50V561.50" stroke="#4584d0" stroke-width="0.85" fill="none"/>
<path d="M510.70 559.50H514.10M512.40 557.50V561.50" stroke="#4584d0" stroke-width="0.85" fill="none"/>
<path d="M515.10 561.50H518.50M516.80 559.50V563.50" stroke="#4584d0" stroke-width="0.85" fill="none"/>
<path d="M519.10 563.50H522.50M520.80 561.50V565.50" stroke="#4584d0" stroke-width="0.85" fill="none"/>
<path d="M522.20 566.50H525.60M523.90 564.50V568.50" stroke="#4584d0" stroke-width="0.85" fill="none"/>
<path d="M529.60 566.50H533.00M531.30 564.50V568.50" stroke="#4584d0" stroke-width="0.85" fill="none"/>
<path d="M530.40 566.50H533.80M532.10 564.50V568.50" stroke="#4584d0" stroke-width="0.85" fill="none"/>
<path d="M587.90 572.50H591.30M589.60 570.50V574.50" stroke="#4584d0" stroke-width="0.85" fill="none"/>
<path d="M607.60 572.50H611.00M609.30 570.50V574.50" stroke="#4584d0" stroke-width="0.85" fill="none"/>
<path d="M628.90 572.50H632.30M630.60 570.50V574.50" stroke="#4584d0" stroke-width="0.85" fill="none"/>
<path d="M398.50 511.50 L408.50 511.50 L408.50 514.50 L411.50 514.50 L411.50 515.50 L411.50 519.50 L413.50 519.50 L415.50 519.50 L415.50 521.50 L416.50 521.50 L416.50 523.50 L417.50 523.50 L417.50 527.50 L430.50 527.50 L430.50 535.50 L446.50 535.50 L446.50 548.50 L481.50 548.50 L481.50 562.50 L484.50 562.50 L484.50 575.50 L492.50 575.50 L492.50 589.50" stroke="#e8c21e" stroke-width="0.9" fill="none" stroke-linejoin="miter"/>
<path d="M406.90 514.50H410.30M408.60 512.50V516.50" stroke="#e8c21e" stroke-width="0.85" fill="none"/>
<path d="M408.20 514.50H411.60M409.90 512.50V516.50" stroke="#e8c21e" stroke-width="0.85" fill="none"/>
<path d="M410.40 519.50H413.80M412.10 517.50V521.50" stroke="#e8c21e" stroke-width="0.85" fill="none"/>
<path d="M410.90 519.50H414.30M412.60 517.50V521.50" stroke="#e8c21e" stroke-width="0.85" fill="none"/>
<path d="M412.10 519.50H415.50M413.80 517.50V521.50" stroke="#e8c21e" stroke-width="0.85" fill="none"/>
<path d="M413.90 521.50H417.30M415.60 519.50V523.50" stroke="#e8c21e" stroke-width="0.85" fill="none"/>
<path d="M416.50 527.50H419.90M418.20 525.50V529.50" stroke="#e8c21e" stroke-width="0.85" fill="none"/>
<path d="M418.70 527.50H422.10M420.40 525.50V529.50" stroke="#e8c21e" stroke-width="0.85" fill="none"/>
<path d="M422.20 527.50H425.60M423.90 525.50V529.50" stroke="#e8c21e" stroke-width="0.85" fill="none"/>
<path d="M423.50 527.50H426.90M425.20 525.50V529.50" stroke="#e8c21e" stroke-width="0.85" fill="none"/>
<path d="M424.80 527.50H428.20M426.50 525.50V529.50" stroke="#e8c21e" stroke-width="0.85" fill="none"/>
<path d="M426.10 527.50H429.50M427.80 525.50V529.50" stroke="#e8c21e" stroke-width="0.85" fill="none"/>
<path d="M427.50 527.50H430.90M429.20 525.50V529.50" stroke="#e8c21e" stroke-width="0.85" fill="none"/>
<path d="M431.00 535.50H434.40M432.70 533.50V537.50" stroke="#e8c21e" stroke-width="0.85" fill="none"/>
<path d="M432.30 535.50H435.70M434.00 533.50V537.50" stroke="#e8c21e" stroke-width="0.85" fill="none"/>
<path d="M433.60 535.50H437.00M435.30 533.50V537.50" stroke="#e8c21e" stroke-width="0.85" fill="none"/>
<path d="M398.50 511.50 L400.50 511.50 L400.50 514.50 L404.50 514.50 L404.50 520.50 L408.50 520.50 L408.50 528.50 L415.50 528.50 L415.50 532.50 L418.50 532.50 L418.50 536.50 L430.50 536.50 L430.50 546.50 L434.50 546.50 L434.50 560.50 L463.50 560.50 L463.50 575.50 L465.50 575.50" stroke="#808080" stroke-width="0.9" fill="none" stroke-linejoin="miter"/>
<path d="M411.70 528.50H415.10M413.40 526.50V530.50" stroke="#808080" stroke-width="0.85" fill="none"/>
<path d="M413.00 528.50H416.40M414.70 526.50V530.50" stroke="#808080" stroke-width="0.85" fill="none"/>
<path d="M414.30 532.50H417.70M416.00 530.50V534.50" stroke="#808080" stroke-width="0.85" fill="none"/>
<path d="M415.20 532.50H418.60M416.90 530.50V534.50" stroke="#808080" stroke-width="0.85" fill="none"/>
<path d="M418.70 536.50H422.10M420.40 534.50V538.50" stroke="#808080" stroke-width="0.85" fill="none"/>
<path d="M422.60 536.50H426.00M424.30 534.50V538.50" stroke="#808080" stroke-width="0.85" fill="none"/>
<path d="M423.90 536.50H427.30M425.60 534.50V538.50" stroke="#808080" stroke-width="0.85" fill="none"/>
<path d="M425.30 536.50H428.70M427.00 534.50V538.50" stroke="#808080" stroke-width="0.85" fill="none"/>
<path d="M426.60 536.50H430.00M428.30 534.50V538.50" stroke="#808080" stroke-width="0.85" fill="none"/>
<path d="M428.30 536.50H431.70M430.00 534.50V538.50" stroke="#808080" stroke-width="0.85" fill="none"/>
<path d="M464.00 575.50H467.40M465.70 573.50V577.50" stroke="#808080" stroke-width="0.85" fill="none"/>
<text x="383.00" y="631.06" font-size="6.27" text-anchor="end" fill="#4f8ad8" textLength="15.69" lengthAdjust="spacingAndGlyphs" stroke="#4f8ad8" stroke-width="0.18">HER2+</text>
<text x="399.20" y="630.77" font-size="6.61" text-anchor="middle" fill="#222222" textLength="16.10" lengthAdjust="spacingAndGlyphs" stroke="#222222" stroke-width="0.18">126 (0)</text>
<text x="419.16" y="630.77" font-size="6.61" text-anchor="middle" fill="#222222" textLength="15.72" lengthAdjust="spacingAndGlyphs" stroke="#222222" stroke-width="0.18">113 (3)</text>
<text x="439.12" y="630.77" font-size="6.61" text-anchor="middle" fill="#222222" textLength="16.10" lengthAdjust="spacingAndGlyphs" stroke="#222222" stroke-width="0.18">77 (20)</text>
<text x="459.09" y="630.77" font-size="6.61" text-anchor="middle" fill="#222222" textLength="16.10" lengthAdjust="spacingAndGlyphs" stroke="#222222" stroke-width="0.18">48 (37)</text>
<text x="479.05" y="630.77" font-size="6.61" text-anchor="middle" fill="#222222" textLength="16.10" lengthAdjust="spacingAndGlyphs" stroke="#222222" stroke-width="0.18">26 (50)</text>
<text x="499.01" y="630.77" font-size="6.61" text-anchor="middle" fill="#222222" textLength="16.10" lengthAdjust="spacingAndGlyphs" stroke="#222222" stroke-width="0.18">15 (56)</text>
<text x="518.97" y="630.77" font-size="6.61" text-anchor="middle" fill="#222222" textLength="16.10" lengthAdjust="spacingAndGlyphs" stroke="#222222" stroke-width="0.18">10 (59)</text>
<text x="538.93" y="630.77" font-size="6.61" text-anchor="middle" fill="#222222" textLength="13.27" lengthAdjust="spacingAndGlyphs" stroke="#222222" stroke-width="0.18">4 (64)</text>
<text x="558.90" y="630.77" font-size="6.61" text-anchor="middle" fill="#222222" textLength="13.27" lengthAdjust="spacingAndGlyphs" stroke="#222222" stroke-width="0.18">4 (64)</text>
<text x="578.86" y="630.77" font-size="6.61" text-anchor="middle" fill="#222222" textLength="13.27" lengthAdjust="spacingAndGlyphs" stroke="#222222" stroke-width="0.18">3 (64)</text>
<text x="598.82" y="630.77" font-size="6.61" text-anchor="middle" fill="#222222" textLength="13.27" lengthAdjust="spacingAndGlyphs" stroke="#222222" stroke-width="0.18">2 (65)</text>
<text x="618.78" y="630.77" font-size="6.61" text-anchor="middle" fill="#222222" textLength="13.27" lengthAdjust="spacingAndGlyphs" stroke="#222222" stroke-width="0.18">1 (66)</text>
<text x="638.74" y="630.77" font-size="6.61" text-anchor="middle" fill="#222222" textLength="13.27" lengthAdjust="spacingAndGlyphs" stroke="#222222" stroke-width="0.18">0 (67)</text>
<text x="658.71" y="630.77" font-size="6.61" text-anchor="middle" fill="#222222" textLength="13.27" lengthAdjust="spacingAndGlyphs" stroke="#222222" stroke-width="0.18">0 (67)</text>
<text x="383.00" y="639.26" font-size="6.27" text-anchor="end" fill="#e3c745" textLength="25.60" lengthAdjust="spacingAndGlyphs" stroke="#e3c745" stroke-width="0.18">HER2-/HR+</text>
<text x="399.20" y="638.97" font-size="6.61" text-anchor="middle" fill="#222222" textLength="13.27" lengthAdjust="spacingAndGlyphs" stroke="#222222" stroke-width="0.18">42 (0)</text>
<text x="419.16" y="638.97" font-size="6.61" text-anchor="middle" fill="#222222" textLength="16.10" lengthAdjust="spacingAndGlyphs" stroke="#222222" stroke-width="0.18">24 (10)</text>
<text x="439.12" y="638.97" font-size="6.61" text-anchor="middle" fill="#222222" textLength="13.27" lengthAdjust="spacingAndGlyphs" stroke="#222222" stroke-width="0.18">4 (29)</text>
<text x="459.09" y="638.97" font-size="6.61" text-anchor="middle" fill="#222222" textLength="13.27" lengthAdjust="spacingAndGlyphs" stroke="#222222" stroke-width="0.18">3 (29)</text>
<text x="479.05" y="638.97" font-size="6.61" text-anchor="middle" fill="#222222" textLength="13.27" lengthAdjust="spacingAndGlyphs" stroke="#222222" stroke-width="0.18">3 (29)</text>
<text x="499.01" y="638.97" font-size="6.61" text-anchor="middle" fill="#222222" textLength="13.27" lengthAdjust="spacingAndGlyphs" stroke="#222222" stroke-width="0.18">0 (29)</text>
<text x="518.97" y="638.97" font-size="6.61" text-anchor="middle" fill="#222222" textLength="13.27" lengthAdjust="spacingAndGlyphs" stroke="#222222" stroke-width="0.18">0 (29)</text>
<text x="538.93" y="638.97" font-size="6.61" text-anchor="middle" fill="#222222" textLength="13.27" lengthAdjust="spacingAndGlyphs" stroke="#222222" stroke-width="0.18">0 (29)</text>
<text x="558.90" y="638.97" font-size="6.61" text-anchor="middle" fill="#222222" textLength="13.27" lengthAdjust="spacingAndGlyphs" stroke="#222222" stroke-width="0.18">0 (29)</text>
<text x="578.86" y="638.97" font-size="6.61" text-anchor="middle" fill="#222222" textLength="13.27" lengthAdjust="spacingAndGlyphs" stroke="#222222" stroke-width="0.18">0 (29)</text>
<text x="598.82" y="638.97" font-size="6.61" text-anchor="middle" fill="#222222" textLength="13.27" lengthAdjust="spacingAndGlyphs" stroke="#222222" stroke-width="0.18">0 (29)</text>
<text x="618.78" y="638.97" font-size="6.61" text-anchor="middle" fill="#222222" textLength="13.27" lengthAdjust="spacingAndGlyphs" stroke="#222222" stroke-width="0.18">0 (29)</text>
<text x="638.74" y="638.97" font-size="6.61" text-anchor="middle" fill="#222222" textLength="13.27" lengthAdjust="spacingAndGlyphs" stroke="#222222" stroke-width="0.18">0 (29)</text>
<text x="658.71" y="638.97" font-size="6.61" text-anchor="middle" fill="#222222" textLength="13.27" lengthAdjust="spacingAndGlyphs" stroke="#222222" stroke-width="0.18">0 (29)</text>
<text x="383.00" y="647.56" font-size="6.27" text-anchor="end" fill="#9a9a9a" textLength="13.13" lengthAdjust="spacingAndGlyphs" stroke="#9a9a9a" stroke-width="0.18">TNBC</text>
<text x="399.20" y="647.27" font-size="6.61" text-anchor="middle" fill="#222222" textLength="13.27" lengthAdjust="spacingAndGlyphs" stroke="#222222" stroke-width="0.18">23 (0)</text>
<text x="419.16" y="647.27" font-size="6.61" text-anchor="middle" fill="#222222" textLength="13.27" lengthAdjust="spacingAndGlyphs" stroke="#222222" stroke-width="0.18">13 (4)</text>
<text x="439.12" y="647.27" font-size="6.61" text-anchor="middle" fill="#222222" textLength="13.27" lengthAdjust="spacingAndGlyphs" stroke="#222222" stroke-width="0.18">2 (12)</text>
<text x="459.09" y="647.27" font-size="6.61" text-anchor="middle" fill="#222222" textLength="13.27" lengthAdjust="spacingAndGlyphs" stroke="#222222" stroke-width="0.18">2 (12)</text>
<text x="479.05" y="647.27" font-size="6.61" text-anchor="middle" fill="#222222" textLength="13.27" lengthAdjust="spacingAndGlyphs" stroke="#222222" stroke-width="0.18">0 (13)</text>
<text x="499.01" y="647.27" font-size="6.61" text-anchor="middle" fill="#222222" textLength="13.27" lengthAdjust="spacingAndGlyphs" stroke="#222222" stroke-width="0.18">0 (13)</text>
<text x="518.97" y="647.27" font-size="6.61" text-anchor="middle" fill="#222222" textLength="13.27" lengthAdjust="spacingAndGlyphs" stroke="#222222" stroke-width="0.18">0 (13)</text>
<text x="538.93" y="647.27" font-size="6.61" text-anchor="middle" fill="#222222" textLength="13.27" lengthAdjust="spacingAndGlyphs" stroke="#222222" stroke-width="0.18">0 (13)</text>
<text x="558.90" y="647.27" font-size="6.61" text-anchor="middle" fill="#222222" textLength="13.27" lengthAdjust="spacingAndGlyphs" stroke="#222222" stroke-width="0.18">0 (13)</text>
<text x="578.86" y="647.27" font-size="6.61" text-anchor="middle" fill="#222222" textLength="13.27" lengthAdjust="spacingAndGlyphs" stroke="#222222" stroke-width="0.18">0 (13)</text>
<text x="598.82" y="647.27" font-size="6.61" text-anchor="middle" fill="#222222" textLength="13.27" lengthAdjust="spacingAndGlyphs" stroke="#222222" stroke-width="0.18">0 (13)</text>
<text x="618.78" y="647.27" font-size="6.61" text-anchor="middle" fill="#222222" textLength="13.27" lengthAdjust="spacingAndGlyphs" stroke="#222222" stroke-width="0.18">0 (13)</text>
<text x="638.74" y="647.27" font-size="6.61" text-anchor="middle" fill="#222222" textLength="13.27" lengthAdjust="spacingAndGlyphs" stroke="#222222" stroke-width="0.18">0 (13)</text>
<text x="658.71" y="647.27" font-size="6.61" text-anchor="middle" fill="#222222" textLength="13.27" lengthAdjust="spacingAndGlyphs" stroke="#222222" stroke-width="0.18">0 (13)</text>
<line x1="342.50" y1="1.00" x2="342.50" y2="663.00" stroke="#7c7c7c" stroke-width="1.0"/>
<line x1="0.00" y1="222.50" x2="685.00" y2="222.50" stroke="#4a4a4a" stroke-width="1.0"/>
<line x1="0.00" y1="459.50" x2="685.00" y2="459.50" stroke="#4a4a4a" stroke-width="1.0"/>
</svg></body></html>
